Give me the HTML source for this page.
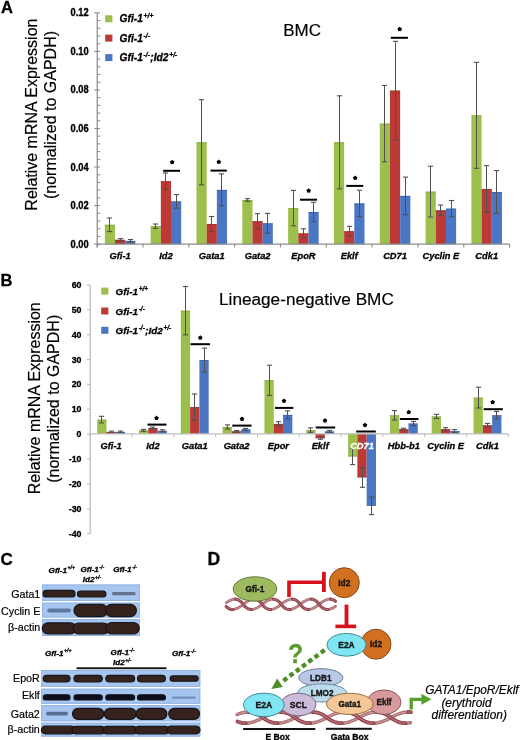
<!DOCTYPE html><html><head><meta charset="utf-8"><style>html,body{margin:0;padding:0;background:#fff}svg{display:block;will-change:transform}text{font-family:"Liberation Sans",sans-serif;stroke:#000;stroke-width:0.18px}text[font-weight="bold"]{stroke-width:0.3px}text.w{stroke:#fff}text.g{stroke:#5c9a2c}</style></head><body>
<svg width="520" height="740" viewBox="0 0 520 740">
<rect width="520" height="740" fill="#fff"/>
<text x="1.00" y="13.30" font-size="16.5" font-weight="bold" font-style="normal" text-anchor="start" fill="#000" >A</text>
<rect x="104.84" y="224.80" width="10.18" height="19.30" fill="#9dbf4c"/>
<rect x="104.84" y="224.80" width="10.18" height="0.9" fill="#7a9a3c" opacity="0.6"/>
<rect x="115.02" y="239.80" width="10.18" height="4.30" fill="#bc3936"/>
<rect x="115.02" y="239.80" width="10.18" height="0.9" fill="#8f2e2c" opacity="0.6"/>
<rect x="125.20" y="240.90" width="10.18" height="3.20" fill="#4a76c4"/>
<rect x="125.20" y="240.90" width="10.18" height="0.9" fill="#3a5c9c" opacity="0.6"/>
<line x1="109.50" y1="218.00" x2="109.50" y2="231.60" stroke="#505050" stroke-width="1.0"/>
<line x1="106.90" y1="218.00" x2="112.10" y2="218.00" stroke="#505050" stroke-width="1.1"/>
<line x1="106.90" y1="231.60" x2="112.10" y2="231.60" stroke="#505050" stroke-width="1.1"/>
<line x1="120.50" y1="238.60" x2="120.50" y2="241.00" stroke="#505050" stroke-width="1.0"/>
<line x1="117.90" y1="238.60" x2="123.10" y2="238.60" stroke="#505050" stroke-width="1.1"/>
<line x1="117.90" y1="241.00" x2="123.10" y2="241.00" stroke="#505050" stroke-width="1.1"/>
<line x1="130.50" y1="239.50" x2="130.50" y2="242.30" stroke="#505050" stroke-width="1.0"/>
<line x1="127.90" y1="239.50" x2="133.10" y2="239.50" stroke="#505050" stroke-width="1.1"/>
<line x1="127.90" y1="242.30" x2="133.10" y2="242.30" stroke="#505050" stroke-width="1.1"/>
<rect x="150.66" y="226.20" width="10.18" height="17.90" fill="#9dbf4c"/>
<rect x="150.66" y="226.20" width="10.18" height="0.9" fill="#7a9a3c" opacity="0.6"/>
<rect x="160.84" y="181.20" width="10.18" height="62.90" fill="#bc3936"/>
<rect x="160.84" y="181.20" width="10.18" height="0.9" fill="#8f2e2c" opacity="0.6"/>
<rect x="171.02" y="201.40" width="10.18" height="42.70" fill="#4a76c4"/>
<rect x="171.02" y="201.40" width="10.18" height="0.9" fill="#3a5c9c" opacity="0.6"/>
<line x1="155.50" y1="224.00" x2="155.50" y2="228.40" stroke="#505050" stroke-width="1.0"/>
<line x1="152.90" y1="224.00" x2="158.10" y2="224.00" stroke="#505050" stroke-width="1.1"/>
<line x1="152.90" y1="228.40" x2="158.10" y2="228.40" stroke="#505050" stroke-width="1.1"/>
<line x1="165.50" y1="173.00" x2="165.50" y2="189.40" stroke="#505050" stroke-width="1.0"/>
<line x1="162.90" y1="173.00" x2="168.10" y2="173.00" stroke="#505050" stroke-width="1.1"/>
<line x1="162.90" y1="189.40" x2="168.10" y2="189.40" stroke="#505050" stroke-width="1.1"/>
<line x1="176.50" y1="194.60" x2="176.50" y2="208.20" stroke="#505050" stroke-width="1.0"/>
<line x1="173.90" y1="194.60" x2="179.10" y2="194.60" stroke="#505050" stroke-width="1.1"/>
<line x1="173.90" y1="208.20" x2="179.10" y2="208.20" stroke="#505050" stroke-width="1.1"/>
<rect x="196.48" y="142.30" width="10.18" height="101.80" fill="#9dbf4c"/>
<rect x="196.48" y="142.30" width="10.18" height="0.9" fill="#7a9a3c" opacity="0.6"/>
<rect x="206.66" y="224.00" width="10.18" height="20.10" fill="#bc3936"/>
<rect x="206.66" y="224.00" width="10.18" height="0.9" fill="#8f2e2c" opacity="0.6"/>
<rect x="216.85" y="189.90" width="10.18" height="54.20" fill="#4a76c4"/>
<rect x="216.85" y="189.90" width="10.18" height="0.9" fill="#3a5c9c" opacity="0.6"/>
<line x1="201.50" y1="99.70" x2="201.50" y2="184.90" stroke="#505050" stroke-width="1.0"/>
<line x1="198.90" y1="99.70" x2="204.10" y2="99.70" stroke="#505050" stroke-width="1.1"/>
<line x1="198.90" y1="184.90" x2="204.10" y2="184.90" stroke="#505050" stroke-width="1.1"/>
<line x1="211.50" y1="216.50" x2="211.50" y2="231.50" stroke="#505050" stroke-width="1.0"/>
<line x1="208.90" y1="216.50" x2="214.10" y2="216.50" stroke="#505050" stroke-width="1.1"/>
<line x1="208.90" y1="231.50" x2="214.10" y2="231.50" stroke="#505050" stroke-width="1.1"/>
<line x1="221.50" y1="173.90" x2="221.50" y2="205.90" stroke="#505050" stroke-width="1.0"/>
<line x1="218.90" y1="173.90" x2="224.10" y2="173.90" stroke="#505050" stroke-width="1.1"/>
<line x1="218.90" y1="205.90" x2="224.10" y2="205.90" stroke="#505050" stroke-width="1.1"/>
<rect x="242.30" y="200.00" width="10.18" height="44.10" fill="#9dbf4c"/>
<rect x="242.30" y="200.00" width="10.18" height="0.9" fill="#7a9a3c" opacity="0.6"/>
<rect x="252.49" y="221.20" width="10.18" height="22.90" fill="#bc3936"/>
<rect x="252.49" y="221.20" width="10.18" height="0.9" fill="#8f2e2c" opacity="0.6"/>
<rect x="262.67" y="223.30" width="10.18" height="20.80" fill="#4a76c4"/>
<rect x="262.67" y="223.30" width="10.18" height="0.9" fill="#3a5c9c" opacity="0.6"/>
<line x1="247.50" y1="198.70" x2="247.50" y2="201.30" stroke="#505050" stroke-width="1.0"/>
<line x1="244.90" y1="198.70" x2="250.10" y2="198.70" stroke="#505050" stroke-width="1.1"/>
<line x1="244.90" y1="201.30" x2="250.10" y2="201.30" stroke="#505050" stroke-width="1.1"/>
<line x1="257.50" y1="213.70" x2="257.50" y2="228.70" stroke="#505050" stroke-width="1.0"/>
<line x1="254.90" y1="213.70" x2="260.10" y2="213.70" stroke="#505050" stroke-width="1.1"/>
<line x1="254.90" y1="228.70" x2="260.10" y2="228.70" stroke="#505050" stroke-width="1.1"/>
<line x1="267.50" y1="213.40" x2="267.50" y2="233.20" stroke="#505050" stroke-width="1.0"/>
<line x1="264.90" y1="213.40" x2="270.10" y2="213.40" stroke="#505050" stroke-width="1.1"/>
<line x1="264.90" y1="233.20" x2="270.10" y2="233.20" stroke="#505050" stroke-width="1.1"/>
<rect x="288.13" y="208.10" width="10.18" height="36.00" fill="#9dbf4c"/>
<rect x="288.13" y="208.10" width="10.18" height="0.9" fill="#7a9a3c" opacity="0.6"/>
<rect x="298.31" y="233.40" width="10.18" height="10.70" fill="#bc3936"/>
<rect x="298.31" y="233.40" width="10.18" height="0.9" fill="#8f2e2c" opacity="0.6"/>
<rect x="308.49" y="212.00" width="10.18" height="32.10" fill="#4a76c4"/>
<rect x="308.49" y="212.00" width="10.18" height="0.9" fill="#3a5c9c" opacity="0.6"/>
<line x1="293.50" y1="190.40" x2="293.50" y2="225.80" stroke="#505050" stroke-width="1.0"/>
<line x1="290.90" y1="190.40" x2="296.10" y2="190.40" stroke="#505050" stroke-width="1.1"/>
<line x1="290.90" y1="225.80" x2="296.10" y2="225.80" stroke="#505050" stroke-width="1.1"/>
<line x1="303.50" y1="228.80" x2="303.50" y2="238.00" stroke="#505050" stroke-width="1.0"/>
<line x1="300.90" y1="228.80" x2="306.10" y2="228.80" stroke="#505050" stroke-width="1.1"/>
<line x1="300.90" y1="238.00" x2="306.10" y2="238.00" stroke="#505050" stroke-width="1.1"/>
<line x1="313.50" y1="202.30" x2="313.50" y2="221.70" stroke="#505050" stroke-width="1.0"/>
<line x1="310.90" y1="202.30" x2="316.10" y2="202.30" stroke="#505050" stroke-width="1.1"/>
<line x1="310.90" y1="221.70" x2="316.10" y2="221.70" stroke="#505050" stroke-width="1.1"/>
<rect x="333.95" y="142.30" width="10.18" height="101.80" fill="#9dbf4c"/>
<rect x="333.95" y="142.30" width="10.18" height="0.9" fill="#7a9a3c" opacity="0.6"/>
<rect x="344.13" y="231.20" width="10.18" height="12.90" fill="#bc3936"/>
<rect x="344.13" y="231.20" width="10.18" height="0.9" fill="#8f2e2c" opacity="0.6"/>
<rect x="354.31" y="203.40" width="10.18" height="40.70" fill="#4a76c4"/>
<rect x="354.31" y="203.40" width="10.18" height="0.9" fill="#3a5c9c" opacity="0.6"/>
<line x1="339.50" y1="95.80" x2="339.50" y2="188.80" stroke="#505050" stroke-width="1.0"/>
<line x1="336.90" y1="95.80" x2="342.10" y2="95.80" stroke="#505050" stroke-width="1.1"/>
<line x1="336.90" y1="188.80" x2="342.10" y2="188.80" stroke="#505050" stroke-width="1.1"/>
<line x1="349.50" y1="226.30" x2="349.50" y2="236.10" stroke="#505050" stroke-width="1.0"/>
<line x1="346.90" y1="226.30" x2="352.10" y2="226.30" stroke="#505050" stroke-width="1.1"/>
<line x1="346.90" y1="236.10" x2="352.10" y2="236.10" stroke="#505050" stroke-width="1.1"/>
<line x1="359.50" y1="190.20" x2="359.50" y2="216.60" stroke="#505050" stroke-width="1.0"/>
<line x1="356.90" y1="190.20" x2="362.10" y2="190.20" stroke="#505050" stroke-width="1.1"/>
<line x1="356.90" y1="216.60" x2="362.10" y2="216.60" stroke="#505050" stroke-width="1.1"/>
<rect x="379.77" y="123.60" width="10.18" height="120.50" fill="#9dbf4c"/>
<rect x="379.77" y="123.60" width="10.18" height="0.9" fill="#7a9a3c" opacity="0.6"/>
<rect x="389.95" y="90.60" width="10.18" height="153.50" fill="#bc3936"/>
<rect x="389.95" y="90.60" width="10.18" height="0.9" fill="#8f2e2c" opacity="0.6"/>
<rect x="400.14" y="195.90" width="10.18" height="48.20" fill="#4a76c4"/>
<rect x="400.14" y="195.90" width="10.18" height="0.9" fill="#3a5c9c" opacity="0.6"/>
<line x1="384.50" y1="85.40" x2="384.50" y2="161.80" stroke="#505050" stroke-width="1.0"/>
<line x1="381.90" y1="85.40" x2="387.10" y2="85.40" stroke="#505050" stroke-width="1.1"/>
<line x1="381.90" y1="161.80" x2="387.10" y2="161.80" stroke="#505050" stroke-width="1.1"/>
<line x1="395.50" y1="41.30" x2="395.50" y2="139.90" stroke="#505050" stroke-width="1.0"/>
<line x1="392.90" y1="41.30" x2="398.10" y2="41.30" stroke="#505050" stroke-width="1.1"/>
<line x1="392.90" y1="139.90" x2="398.10" y2="139.90" stroke="#505050" stroke-width="1.1"/>
<line x1="405.50" y1="177.10" x2="405.50" y2="214.70" stroke="#505050" stroke-width="1.0"/>
<line x1="402.90" y1="177.10" x2="408.10" y2="177.10" stroke="#505050" stroke-width="1.1"/>
<line x1="402.90" y1="214.70" x2="408.10" y2="214.70" stroke="#505050" stroke-width="1.1"/>
<rect x="425.59" y="191.60" width="10.18" height="52.50" fill="#9dbf4c"/>
<rect x="425.59" y="191.60" width="10.18" height="0.9" fill="#7a9a3c" opacity="0.6"/>
<rect x="435.78" y="210.30" width="10.18" height="33.80" fill="#bc3936"/>
<rect x="435.78" y="210.30" width="10.18" height="0.9" fill="#8f2e2c" opacity="0.6"/>
<rect x="445.96" y="208.60" width="10.18" height="35.50" fill="#4a76c4"/>
<rect x="445.96" y="208.60" width="10.18" height="0.9" fill="#3a5c9c" opacity="0.6"/>
<line x1="430.50" y1="166.20" x2="430.50" y2="217.00" stroke="#505050" stroke-width="1.0"/>
<line x1="427.90" y1="166.20" x2="433.10" y2="166.20" stroke="#505050" stroke-width="1.1"/>
<line x1="427.90" y1="217.00" x2="433.10" y2="217.00" stroke="#505050" stroke-width="1.1"/>
<line x1="440.50" y1="205.00" x2="440.50" y2="215.60" stroke="#505050" stroke-width="1.0"/>
<line x1="437.90" y1="205.00" x2="443.10" y2="205.00" stroke="#505050" stroke-width="1.1"/>
<line x1="437.90" y1="215.60" x2="443.10" y2="215.60" stroke="#505050" stroke-width="1.1"/>
<line x1="451.50" y1="200.50" x2="451.50" y2="216.70" stroke="#505050" stroke-width="1.0"/>
<line x1="448.90" y1="200.50" x2="454.10" y2="200.50" stroke="#505050" stroke-width="1.1"/>
<line x1="448.90" y1="216.70" x2="454.10" y2="216.70" stroke="#505050" stroke-width="1.1"/>
<rect x="471.41" y="115.30" width="10.18" height="128.80" fill="#9dbf4c"/>
<rect x="471.41" y="115.30" width="10.18" height="0.9" fill="#7a9a3c" opacity="0.6"/>
<rect x="481.60" y="189.00" width="10.18" height="55.10" fill="#bc3936"/>
<rect x="481.60" y="189.00" width="10.18" height="0.9" fill="#8f2e2c" opacity="0.6"/>
<rect x="491.78" y="192.00" width="10.18" height="52.10" fill="#4a76c4"/>
<rect x="491.78" y="192.00" width="10.18" height="0.9" fill="#3a5c9c" opacity="0.6"/>
<line x1="476.50" y1="62.30" x2="476.50" y2="168.30" stroke="#505050" stroke-width="1.0"/>
<line x1="473.90" y1="62.30" x2="479.10" y2="62.30" stroke="#505050" stroke-width="1.1"/>
<line x1="473.90" y1="168.30" x2="479.10" y2="168.30" stroke="#505050" stroke-width="1.1"/>
<line x1="486.50" y1="165.70" x2="486.50" y2="212.30" stroke="#505050" stroke-width="1.0"/>
<line x1="483.90" y1="165.70" x2="489.10" y2="165.70" stroke="#505050" stroke-width="1.1"/>
<line x1="483.90" y1="212.30" x2="489.10" y2="212.30" stroke="#505050" stroke-width="1.1"/>
<line x1="496.50" y1="170.60" x2="496.50" y2="213.40" stroke="#505050" stroke-width="1.0"/>
<line x1="493.90" y1="170.60" x2="499.10" y2="170.60" stroke="#505050" stroke-width="1.1"/>
<line x1="493.90" y1="213.40" x2="499.10" y2="213.40" stroke="#505050" stroke-width="1.1"/>
<line x1="97.2" y1="12.9" x2="97.2" y2="247.5" stroke="#8c8c8c" stroke-width="1.2"/>
<line x1="97.2" y1="244.1" x2="509.6" y2="244.1" stroke="#8c8c8c" stroke-width="1.2"/>
<line x1="97.20" y1="244.1" x2="97.20" y2="247.5" stroke="#8c8c8c" stroke-width="1.1"/>
<line x1="143.02" y1="244.1" x2="143.02" y2="247.5" stroke="#8c8c8c" stroke-width="1.1"/>
<line x1="188.84" y1="244.1" x2="188.84" y2="247.5" stroke="#8c8c8c" stroke-width="1.1"/>
<line x1="234.67" y1="244.1" x2="234.67" y2="247.5" stroke="#8c8c8c" stroke-width="1.1"/>
<line x1="280.49" y1="244.1" x2="280.49" y2="247.5" stroke="#8c8c8c" stroke-width="1.1"/>
<line x1="326.31" y1="244.1" x2="326.31" y2="247.5" stroke="#8c8c8c" stroke-width="1.1"/>
<line x1="372.13" y1="244.1" x2="372.13" y2="247.5" stroke="#8c8c8c" stroke-width="1.1"/>
<line x1="417.96" y1="244.1" x2="417.96" y2="247.5" stroke="#8c8c8c" stroke-width="1.1"/>
<line x1="463.78" y1="244.1" x2="463.78" y2="247.5" stroke="#8c8c8c" stroke-width="1.1"/>
<line x1="509.60" y1="244.1" x2="509.60" y2="247.5" stroke="#8c8c8c" stroke-width="1.1"/>
<line x1="94.2" y1="244.10" x2="100" y2="244.10" stroke="#8c8c8c" stroke-width="1.1"/>
<text transform="translate(88.6,247.60) scale(1,1.08)" font-size="9.3" font-weight="bold" text-anchor="end">0.00</text>
<line x1="97.2" y1="236.39" x2="100.4" y2="236.39" stroke="#8c8c8c" stroke-width="1"/>
<line x1="97.2" y1="228.69" x2="100.4" y2="228.69" stroke="#8c8c8c" stroke-width="1"/>
<line x1="97.2" y1="220.98" x2="100.4" y2="220.98" stroke="#8c8c8c" stroke-width="1"/>
<line x1="97.2" y1="213.27" x2="100.4" y2="213.27" stroke="#8c8c8c" stroke-width="1"/>
<line x1="94.2" y1="205.57" x2="100" y2="205.57" stroke="#8c8c8c" stroke-width="1.1"/>
<text transform="translate(88.6,209.07) scale(1,1.08)" font-size="9.3" font-weight="bold" text-anchor="end">0.02</text>
<line x1="97.2" y1="197.86" x2="100.4" y2="197.86" stroke="#8c8c8c" stroke-width="1"/>
<line x1="97.2" y1="190.15" x2="100.4" y2="190.15" stroke="#8c8c8c" stroke-width="1"/>
<line x1="97.2" y1="182.45" x2="100.4" y2="182.45" stroke="#8c8c8c" stroke-width="1"/>
<line x1="97.2" y1="174.74" x2="100.4" y2="174.74" stroke="#8c8c8c" stroke-width="1"/>
<line x1="94.2" y1="167.03" x2="100" y2="167.03" stroke="#8c8c8c" stroke-width="1.1"/>
<text transform="translate(88.6,170.53) scale(1,1.08)" font-size="9.3" font-weight="bold" text-anchor="end">0.04</text>
<line x1="97.2" y1="159.33" x2="100.4" y2="159.33" stroke="#8c8c8c" stroke-width="1"/>
<line x1="97.2" y1="151.62" x2="100.4" y2="151.62" stroke="#8c8c8c" stroke-width="1"/>
<line x1="97.2" y1="143.91" x2="100.4" y2="143.91" stroke="#8c8c8c" stroke-width="1"/>
<line x1="97.2" y1="136.21" x2="100.4" y2="136.21" stroke="#8c8c8c" stroke-width="1"/>
<line x1="94.2" y1="128.50" x2="100" y2="128.50" stroke="#8c8c8c" stroke-width="1.1"/>
<text transform="translate(88.6,132.00) scale(1,1.08)" font-size="9.3" font-weight="bold" text-anchor="end">0.06</text>
<line x1="97.2" y1="120.79" x2="100.4" y2="120.79" stroke="#8c8c8c" stroke-width="1"/>
<line x1="97.2" y1="113.09" x2="100.4" y2="113.09" stroke="#8c8c8c" stroke-width="1"/>
<line x1="97.2" y1="105.38" x2="100.4" y2="105.38" stroke="#8c8c8c" stroke-width="1"/>
<line x1="97.2" y1="97.67" x2="100.4" y2="97.67" stroke="#8c8c8c" stroke-width="1"/>
<line x1="94.2" y1="89.97" x2="100" y2="89.97" stroke="#8c8c8c" stroke-width="1.1"/>
<text transform="translate(88.6,93.47) scale(1,1.08)" font-size="9.3" font-weight="bold" text-anchor="end">0.08</text>
<line x1="97.2" y1="82.26" x2="100.4" y2="82.26" stroke="#8c8c8c" stroke-width="1"/>
<line x1="97.2" y1="74.55" x2="100.4" y2="74.55" stroke="#8c8c8c" stroke-width="1"/>
<line x1="97.2" y1="66.85" x2="100.4" y2="66.85" stroke="#8c8c8c" stroke-width="1"/>
<line x1="97.2" y1="59.14" x2="100.4" y2="59.14" stroke="#8c8c8c" stroke-width="1"/>
<line x1="94.2" y1="51.43" x2="100" y2="51.43" stroke="#8c8c8c" stroke-width="1.1"/>
<text transform="translate(88.6,54.93) scale(1,1.08)" font-size="9.3" font-weight="bold" text-anchor="end">0.10</text>
<line x1="97.2" y1="43.73" x2="100.4" y2="43.73" stroke="#8c8c8c" stroke-width="1"/>
<line x1="97.2" y1="36.02" x2="100.4" y2="36.02" stroke="#8c8c8c" stroke-width="1"/>
<line x1="97.2" y1="28.31" x2="100.4" y2="28.31" stroke="#8c8c8c" stroke-width="1"/>
<line x1="97.2" y1="20.61" x2="100.4" y2="20.61" stroke="#8c8c8c" stroke-width="1"/>
<line x1="94.2" y1="12.90" x2="100" y2="12.90" stroke="#8c8c8c" stroke-width="1.1"/>
<text transform="translate(88.6,16.40) scale(1,1.08)" font-size="9.3" font-weight="bold" text-anchor="end">0.12</text>
<text x="120.11" y="259.30" font-size="9.3" font-weight="bold" font-style="italic" text-anchor="middle" fill="#000" >Gfi-1</text>
<text x="165.93" y="259.30" font-size="9.3" font-weight="bold" font-style="italic" text-anchor="middle" fill="#000" >Id2</text>
<text x="211.76" y="259.30" font-size="9.3" font-weight="bold" font-style="italic" text-anchor="middle" fill="#000" >Gata1</text>
<text x="257.58" y="259.30" font-size="9.3" font-weight="bold" font-style="italic" text-anchor="middle" fill="#000" >Gata2</text>
<text x="303.40" y="259.30" font-size="9.3" font-weight="bold" font-style="italic" text-anchor="middle" fill="#000" >EpoR</text>
<text x="349.22" y="259.30" font-size="9.3" font-weight="bold" font-style="italic" text-anchor="middle" fill="#000" >Eklf</text>
<text x="395.04" y="259.30" font-size="9.3" font-weight="bold" font-style="italic" text-anchor="middle" fill="#000" >CD71</text>
<text x="440.87" y="259.30" font-size="9.3" font-weight="bold" font-style="italic" text-anchor="middle" fill="#000" >Cyclin E</text>
<text x="486.69" y="259.30" font-size="9.3" font-weight="bold" font-style="italic" text-anchor="middle" fill="#000" >Cdk1</text>
<rect x="163.2" y="169.8" width="16.80" height="2" fill="#000"/>
<polygon points="172.20,159.80 173.26,160.84 174.58,161.53 173.91,162.86 173.67,164.32 172.20,164.10 170.73,164.32 170.49,162.86 169.82,161.53 171.14,160.84" fill="#000"/>
<rect x="210.5" y="169.6" width="16.30" height="2" fill="#000"/>
<polygon points="218.80,159.50 219.86,160.54 221.18,161.23 220.51,162.56 220.27,164.02 218.80,163.80 217.33,164.02 217.09,162.56 216.42,161.23 217.74,160.54" fill="#000"/>
<rect x="300" y="198.7" width="17.00" height="2" fill="#000"/>
<polygon points="308.70,188.30 309.76,189.34 311.08,190.03 310.41,191.36 310.17,192.82 308.70,192.60 307.23,192.82 306.99,191.36 306.32,190.03 307.64,189.34" fill="#000"/>
<rect x="346.3" y="184.9" width="17.00" height="2" fill="#000"/>
<polygon points="355.20,175.50 356.26,176.54 357.58,177.23 356.91,178.56 356.67,180.02 355.20,179.80 353.73,180.02 353.49,178.56 352.82,177.23 354.14,176.54" fill="#000"/>
<rect x="390.8" y="36.8" width="17.10" height="2" fill="#000"/>
<polygon points="399.70,26.70 400.76,27.74 402.08,28.43 401.41,29.76 401.17,31.22 399.70,31.00 398.23,31.22 397.99,29.76 397.32,28.43 398.64,27.74" fill="#000"/>
<rect x="105.2" y="15.30" width="7.2" height="7" fill="#9dbf4c"/>
<text x="119.6" y="22.40" font-size="10.2" font-weight="bold" font-style="italic">Gfi-1<tspan font-size="6.73" dx="0.8" dy="-4.08">+/+</tspan></text>
<rect x="105.2" y="34.60" width="7.2" height="7" fill="#bc3936"/>
<text x="119.6" y="41.70" font-size="10.2" font-weight="bold" font-style="italic">Gfi-1<tspan font-size="6.73" dx="0.8" dy="-4.08">-/-</tspan></text>
<rect x="105.2" y="54.10" width="7.2" height="7" fill="#4a76c4"/>
<text x="119.6" y="61.20" font-size="10.2" font-weight="bold" font-style="italic">Gfi-1<tspan font-size="6.73" dx="0.8" dy="-4.08">-/-</tspan><tspan font-size="10.2" dx="0.4" dy="4.08">;Id2</tspan><tspan font-size="6.73" dx="0.8" dy="-4.08">+/-</tspan></text>
<text x="283.20" y="35.70" font-size="17.0" font-weight="normal" font-style="normal" text-anchor="start" fill="#000" >BMC</text>
<text transform="translate(37.2,114.6) rotate(-90)" font-size="16" text-anchor="middle">Relative mRNA Expression</text>
<text transform="translate(55.8,115.0) rotate(-90)" font-size="16" text-anchor="middle">(normalized to GAPDH)</text>
<text x="0.60" y="285.90" font-size="16.5" font-weight="bold" font-style="normal" text-anchor="start" fill="#000" >B</text>
<rect x="97.17" y="419.60" width="9.29" height="14.30" fill="#9dbf4c"/>
<rect x="97.17" y="419.60" width="9.29" height="0.9" fill="#7a9a3c" opacity="0.6"/>
<rect x="106.46" y="431.90" width="9.29" height="2.00" fill="#bc3936"/>
<rect x="106.46" y="431.90" width="9.29" height="0.9" fill="#8f2e2c" opacity="0.6"/>
<rect x="115.76" y="431.90" width="9.29" height="2.00" fill="#4a76c4"/>
<rect x="115.76" y="431.90" width="9.29" height="0.9" fill="#3a5c9c" opacity="0.6"/>
<line x1="101.50" y1="416.30" x2="101.50" y2="422.90" stroke="#505050" stroke-width="1.0"/>
<line x1="98.90" y1="416.30" x2="104.10" y2="416.30" stroke="#505050" stroke-width="1.1"/>
<line x1="98.90" y1="422.90" x2="104.10" y2="422.90" stroke="#505050" stroke-width="1.1"/>
<line x1="111.50" y1="431.10" x2="111.50" y2="432.70" stroke="#505050" stroke-width="1.0"/>
<line x1="108.90" y1="431.10" x2="114.10" y2="431.10" stroke="#505050" stroke-width="1.1"/>
<line x1="108.90" y1="432.70" x2="114.10" y2="432.70" stroke="#505050" stroke-width="1.1"/>
<line x1="120.50" y1="431.10" x2="120.50" y2="432.70" stroke="#505050" stroke-width="1.0"/>
<line x1="117.90" y1="431.10" x2="123.10" y2="431.10" stroke="#505050" stroke-width="1.1"/>
<line x1="117.90" y1="432.70" x2="123.10" y2="432.70" stroke="#505050" stroke-width="1.1"/>
<rect x="138.99" y="430.40" width="9.29" height="3.50" fill="#9dbf4c"/>
<rect x="138.99" y="430.40" width="9.29" height="0.9" fill="#7a9a3c" opacity="0.6"/>
<rect x="148.28" y="428.10" width="9.29" height="5.80" fill="#bc3936"/>
<rect x="148.28" y="428.10" width="9.29" height="0.9" fill="#8f2e2c" opacity="0.6"/>
<rect x="157.58" y="430.80" width="9.29" height="3.10" fill="#4a76c4"/>
<rect x="157.58" y="430.80" width="9.29" height="0.9" fill="#3a5c9c" opacity="0.6"/>
<line x1="143.50" y1="429.40" x2="143.50" y2="431.40" stroke="#505050" stroke-width="1.0"/>
<line x1="140.90" y1="429.40" x2="146.10" y2="429.40" stroke="#505050" stroke-width="1.1"/>
<line x1="140.90" y1="431.40" x2="146.10" y2="431.40" stroke="#505050" stroke-width="1.1"/>
<line x1="152.50" y1="427.10" x2="152.50" y2="429.10" stroke="#505050" stroke-width="1.0"/>
<line x1="149.90" y1="427.10" x2="155.10" y2="427.10" stroke="#505050" stroke-width="1.1"/>
<line x1="149.90" y1="429.10" x2="155.10" y2="429.10" stroke="#505050" stroke-width="1.1"/>
<line x1="162.50" y1="429.80" x2="162.50" y2="431.80" stroke="#505050" stroke-width="1.0"/>
<line x1="159.90" y1="429.80" x2="165.10" y2="429.80" stroke="#505050" stroke-width="1.1"/>
<line x1="159.90" y1="431.80" x2="165.10" y2="431.80" stroke="#505050" stroke-width="1.1"/>
<rect x="180.81" y="310.70" width="9.29" height="123.20" fill="#9dbf4c"/>
<rect x="180.81" y="310.70" width="9.29" height="0.9" fill="#7a9a3c" opacity="0.6"/>
<rect x="190.10" y="407.10" width="9.29" height="26.80" fill="#bc3936"/>
<rect x="190.10" y="407.10" width="9.29" height="0.9" fill="#8f2e2c" opacity="0.6"/>
<rect x="199.40" y="360.00" width="9.29" height="73.90" fill="#4a76c4"/>
<rect x="199.40" y="360.00" width="9.29" height="0.9" fill="#3a5c9c" opacity="0.6"/>
<line x1="185.50" y1="286.50" x2="185.50" y2="334.90" stroke="#505050" stroke-width="1.0"/>
<line x1="182.90" y1="286.50" x2="188.10" y2="286.50" stroke="#505050" stroke-width="1.1"/>
<line x1="182.90" y1="334.90" x2="188.10" y2="334.90" stroke="#505050" stroke-width="1.1"/>
<line x1="194.50" y1="394.00" x2="194.50" y2="420.20" stroke="#505050" stroke-width="1.0"/>
<line x1="191.90" y1="394.00" x2="197.10" y2="394.00" stroke="#505050" stroke-width="1.1"/>
<line x1="191.90" y1="420.20" x2="197.10" y2="420.20" stroke="#505050" stroke-width="1.1"/>
<line x1="204.50" y1="348.10" x2="204.50" y2="371.90" stroke="#505050" stroke-width="1.0"/>
<line x1="201.90" y1="348.10" x2="207.10" y2="348.10" stroke="#505050" stroke-width="1.1"/>
<line x1="201.90" y1="371.90" x2="207.10" y2="371.90" stroke="#505050" stroke-width="1.1"/>
<rect x="222.63" y="427.00" width="9.29" height="6.90" fill="#9dbf4c"/>
<rect x="222.63" y="427.00" width="9.29" height="0.9" fill="#7a9a3c" opacity="0.6"/>
<rect x="231.92" y="431.30" width="9.29" height="2.60" fill="#bc3936"/>
<rect x="231.92" y="431.30" width="9.29" height="0.9" fill="#8f2e2c" opacity="0.6"/>
<rect x="241.22" y="429.40" width="9.29" height="4.50" fill="#4a76c4"/>
<rect x="241.22" y="429.40" width="9.29" height="0.9" fill="#3a5c9c" opacity="0.6"/>
<line x1="227.50" y1="424.90" x2="227.50" y2="429.10" stroke="#505050" stroke-width="1.0"/>
<line x1="224.90" y1="424.90" x2="230.10" y2="424.90" stroke="#505050" stroke-width="1.1"/>
<line x1="224.90" y1="429.10" x2="230.10" y2="429.10" stroke="#505050" stroke-width="1.1"/>
<line x1="236.50" y1="430.50" x2="236.50" y2="432.10" stroke="#505050" stroke-width="1.0"/>
<line x1="233.90" y1="430.50" x2="239.10" y2="430.50" stroke="#505050" stroke-width="1.1"/>
<line x1="233.90" y1="432.10" x2="239.10" y2="432.10" stroke="#505050" stroke-width="1.1"/>
<line x1="245.50" y1="428.40" x2="245.50" y2="430.40" stroke="#505050" stroke-width="1.0"/>
<line x1="242.90" y1="428.40" x2="248.10" y2="428.40" stroke="#505050" stroke-width="1.1"/>
<line x1="242.90" y1="430.40" x2="248.10" y2="430.40" stroke="#505050" stroke-width="1.1"/>
<rect x="264.45" y="380.30" width="9.29" height="53.60" fill="#9dbf4c"/>
<rect x="264.45" y="380.30" width="9.29" height="0.9" fill="#7a9a3c" opacity="0.6"/>
<rect x="273.74" y="423.90" width="9.29" height="10.00" fill="#bc3936"/>
<rect x="273.74" y="423.90" width="9.29" height="0.9" fill="#8f2e2c" opacity="0.6"/>
<rect x="283.04" y="414.90" width="9.29" height="19.00" fill="#4a76c4"/>
<rect x="283.04" y="414.90" width="9.29" height="0.9" fill="#3a5c9c" opacity="0.6"/>
<line x1="269.50" y1="365.20" x2="269.50" y2="395.40" stroke="#505050" stroke-width="1.0"/>
<line x1="266.90" y1="365.20" x2="272.10" y2="365.20" stroke="#505050" stroke-width="1.1"/>
<line x1="266.90" y1="395.40" x2="272.10" y2="395.40" stroke="#505050" stroke-width="1.1"/>
<line x1="278.50" y1="421.70" x2="278.50" y2="426.10" stroke="#505050" stroke-width="1.0"/>
<line x1="275.90" y1="421.70" x2="281.10" y2="421.70" stroke="#505050" stroke-width="1.1"/>
<line x1="275.90" y1="426.10" x2="281.10" y2="426.10" stroke="#505050" stroke-width="1.1"/>
<line x1="287.50" y1="410.90" x2="287.50" y2="418.90" stroke="#505050" stroke-width="1.0"/>
<line x1="284.90" y1="410.90" x2="290.10" y2="410.90" stroke="#505050" stroke-width="1.1"/>
<line x1="284.90" y1="418.90" x2="290.10" y2="418.90" stroke="#505050" stroke-width="1.1"/>
<rect x="306.27" y="430.10" width="9.29" height="3.80" fill="#9dbf4c"/>
<rect x="306.27" y="430.10" width="9.29" height="0.9" fill="#7a9a3c" opacity="0.6"/>
<rect x="315.56" y="433.90" width="9.29" height="4.40" fill="#bc3936"/>
<rect x="315.56" y="437.40" width="9.29" height="0.9" fill="#8f2e2c" opacity="0.6"/>
<rect x="324.86" y="431.40" width="9.29" height="2.50" fill="#4a76c4"/>
<rect x="324.86" y="431.40" width="9.29" height="0.9" fill="#3a5c9c" opacity="0.6"/>
<line x1="310.50" y1="427.90" x2="310.50" y2="432.30" stroke="#505050" stroke-width="1.0"/>
<line x1="307.90" y1="427.90" x2="313.10" y2="427.90" stroke="#505050" stroke-width="1.1"/>
<line x1="307.90" y1="432.30" x2="313.10" y2="432.30" stroke="#505050" stroke-width="1.1"/>
<line x1="320.50" y1="437.30" x2="320.50" y2="439.30" stroke="#505050" stroke-width="1.0"/>
<line x1="317.90" y1="437.30" x2="323.10" y2="437.30" stroke="#505050" stroke-width="1.1"/>
<line x1="317.90" y1="439.30" x2="323.10" y2="439.30" stroke="#505050" stroke-width="1.1"/>
<line x1="329.50" y1="430.40" x2="329.50" y2="432.40" stroke="#505050" stroke-width="1.0"/>
<line x1="326.90" y1="430.40" x2="332.10" y2="430.40" stroke="#505050" stroke-width="1.1"/>
<line x1="326.90" y1="432.40" x2="332.10" y2="432.40" stroke="#505050" stroke-width="1.1"/>
<rect x="348.09" y="433.90" width="9.29" height="22.60" fill="#9dbf4c"/>
<rect x="348.09" y="455.60" width="9.29" height="0.9" fill="#7a9a3c" opacity="0.6"/>
<rect x="357.38" y="433.90" width="9.29" height="43.50" fill="#bc3936"/>
<rect x="357.38" y="476.50" width="9.29" height="0.9" fill="#8f2e2c" opacity="0.6"/>
<rect x="366.68" y="433.90" width="9.29" height="71.90" fill="#4a76c4"/>
<rect x="366.68" y="504.90" width="9.29" height="0.9" fill="#3a5c9c" opacity="0.6"/>
<line x1="352.50" y1="448.40" x2="352.50" y2="464.60" stroke="#505050" stroke-width="1.0"/>
<line x1="349.90" y1="448.40" x2="355.10" y2="448.40" stroke="#505050" stroke-width="1.1"/>
<line x1="349.90" y1="464.60" x2="355.10" y2="464.60" stroke="#505050" stroke-width="1.1"/>
<line x1="362.50" y1="467.50" x2="362.50" y2="487.30" stroke="#505050" stroke-width="1.0"/>
<line x1="359.90" y1="467.50" x2="365.10" y2="467.50" stroke="#505050" stroke-width="1.1"/>
<line x1="359.90" y1="487.30" x2="365.10" y2="487.30" stroke="#505050" stroke-width="1.1"/>
<line x1="371.50" y1="497.00" x2="371.50" y2="514.60" stroke="#505050" stroke-width="1.0"/>
<line x1="368.90" y1="497.00" x2="374.10" y2="497.00" stroke="#505050" stroke-width="1.1"/>
<line x1="368.90" y1="514.60" x2="374.10" y2="514.60" stroke="#505050" stroke-width="1.1"/>
<rect x="389.91" y="415.30" width="9.29" height="18.60" fill="#9dbf4c"/>
<rect x="389.91" y="415.30" width="9.29" height="0.9" fill="#7a9a3c" opacity="0.6"/>
<rect x="399.20" y="429.20" width="9.29" height="4.70" fill="#bc3936"/>
<rect x="399.20" y="429.20" width="9.29" height="0.9" fill="#8f2e2c" opacity="0.6"/>
<rect x="408.50" y="423.50" width="9.29" height="10.40" fill="#4a76c4"/>
<rect x="408.50" y="423.50" width="9.29" height="0.9" fill="#3a5c9c" opacity="0.6"/>
<line x1="394.50" y1="410.60" x2="394.50" y2="420.00" stroke="#505050" stroke-width="1.0"/>
<line x1="391.90" y1="410.60" x2="397.10" y2="410.60" stroke="#505050" stroke-width="1.1"/>
<line x1="391.90" y1="420.00" x2="397.10" y2="420.00" stroke="#505050" stroke-width="1.1"/>
<line x1="403.50" y1="428.20" x2="403.50" y2="430.20" stroke="#505050" stroke-width="1.0"/>
<line x1="400.90" y1="428.20" x2="406.10" y2="428.20" stroke="#505050" stroke-width="1.1"/>
<line x1="400.90" y1="430.20" x2="406.10" y2="430.20" stroke="#505050" stroke-width="1.1"/>
<line x1="413.50" y1="421.40" x2="413.50" y2="425.60" stroke="#505050" stroke-width="1.0"/>
<line x1="410.90" y1="421.40" x2="416.10" y2="421.40" stroke="#505050" stroke-width="1.1"/>
<line x1="410.90" y1="425.60" x2="416.10" y2="425.60" stroke="#505050" stroke-width="1.1"/>
<rect x="431.73" y="416.40" width="9.29" height="17.50" fill="#9dbf4c"/>
<rect x="431.73" y="416.40" width="9.29" height="0.9" fill="#7a9a3c" opacity="0.6"/>
<rect x="441.02" y="429.20" width="9.29" height="4.70" fill="#bc3936"/>
<rect x="441.02" y="429.20" width="9.29" height="0.9" fill="#8f2e2c" opacity="0.6"/>
<rect x="450.32" y="431.10" width="9.29" height="2.80" fill="#4a76c4"/>
<rect x="450.32" y="431.10" width="9.29" height="0.9" fill="#3a5c9c" opacity="0.6"/>
<line x1="436.50" y1="414.30" x2="436.50" y2="418.50" stroke="#505050" stroke-width="1.0"/>
<line x1="433.90" y1="414.30" x2="439.10" y2="414.30" stroke="#505050" stroke-width="1.1"/>
<line x1="433.90" y1="418.50" x2="439.10" y2="418.50" stroke="#505050" stroke-width="1.1"/>
<line x1="445.50" y1="427.70" x2="445.50" y2="430.70" stroke="#505050" stroke-width="1.0"/>
<line x1="442.90" y1="427.70" x2="448.10" y2="427.70" stroke="#505050" stroke-width="1.1"/>
<line x1="442.90" y1="430.70" x2="448.10" y2="430.70" stroke="#505050" stroke-width="1.1"/>
<line x1="454.50" y1="429.60" x2="454.50" y2="432.60" stroke="#505050" stroke-width="1.0"/>
<line x1="451.90" y1="429.60" x2="457.10" y2="429.60" stroke="#505050" stroke-width="1.1"/>
<line x1="451.90" y1="432.60" x2="457.10" y2="432.60" stroke="#505050" stroke-width="1.1"/>
<rect x="473.55" y="397.60" width="9.29" height="36.30" fill="#9dbf4c"/>
<rect x="473.55" y="397.60" width="9.29" height="0.9" fill="#7a9a3c" opacity="0.6"/>
<rect x="482.84" y="425.30" width="9.29" height="8.60" fill="#bc3936"/>
<rect x="482.84" y="425.30" width="9.29" height="0.9" fill="#8f2e2c" opacity="0.6"/>
<rect x="492.14" y="415.20" width="9.29" height="18.70" fill="#4a76c4"/>
<rect x="492.14" y="415.20" width="9.29" height="0.9" fill="#3a5c9c" opacity="0.6"/>
<line x1="478.50" y1="387.20" x2="478.50" y2="408.00" stroke="#505050" stroke-width="1.0"/>
<line x1="475.90" y1="387.20" x2="481.10" y2="387.20" stroke="#505050" stroke-width="1.1"/>
<line x1="475.90" y1="408.00" x2="481.10" y2="408.00" stroke="#505050" stroke-width="1.1"/>
<line x1="487.50" y1="423.40" x2="487.50" y2="427.20" stroke="#505050" stroke-width="1.0"/>
<line x1="484.90" y1="423.40" x2="490.10" y2="423.40" stroke="#505050" stroke-width="1.1"/>
<line x1="484.90" y1="427.20" x2="490.10" y2="427.20" stroke="#505050" stroke-width="1.1"/>
<line x1="496.50" y1="411.40" x2="496.50" y2="419.00" stroke="#505050" stroke-width="1.0"/>
<line x1="493.90" y1="411.40" x2="499.10" y2="411.40" stroke="#505050" stroke-width="1.1"/>
<line x1="493.90" y1="419.00" x2="499.10" y2="419.00" stroke="#505050" stroke-width="1.1"/>
<line x1="90.2" y1="284.9" x2="90.2" y2="533.7" stroke="#bdbdbd" stroke-width="1.3"/>
<line x1="90.2" y1="433.9" x2="508.4" y2="433.9" stroke="#bdbdbd" stroke-width="1.3"/>
<line x1="90.20" y1="433.9" x2="90.20" y2="437.09999999999997" stroke="#bdbdbd" stroke-width="1.1"/>
<line x1="132.02" y1="433.9" x2="132.02" y2="437.09999999999997" stroke="#bdbdbd" stroke-width="1.1"/>
<line x1="173.84" y1="433.9" x2="173.84" y2="437.09999999999997" stroke="#bdbdbd" stroke-width="1.1"/>
<line x1="215.66" y1="433.9" x2="215.66" y2="437.09999999999997" stroke="#bdbdbd" stroke-width="1.1"/>
<line x1="257.48" y1="433.9" x2="257.48" y2="437.09999999999997" stroke="#bdbdbd" stroke-width="1.1"/>
<line x1="299.30" y1="433.9" x2="299.30" y2="437.09999999999997" stroke="#bdbdbd" stroke-width="1.1"/>
<line x1="341.12" y1="433.9" x2="341.12" y2="437.09999999999997" stroke="#bdbdbd" stroke-width="1.1"/>
<line x1="382.94" y1="433.9" x2="382.94" y2="437.09999999999997" stroke="#bdbdbd" stroke-width="1.1"/>
<line x1="424.76" y1="433.9" x2="424.76" y2="437.09999999999997" stroke="#bdbdbd" stroke-width="1.1"/>
<line x1="466.58" y1="433.9" x2="466.58" y2="437.09999999999997" stroke="#bdbdbd" stroke-width="1.1"/>
<line x1="508.40" y1="433.9" x2="508.40" y2="437.09999999999997" stroke="#bdbdbd" stroke-width="1.1"/>
<line x1="87" y1="284.90" x2="90.2" y2="284.90" stroke="#bdbdbd" stroke-width="1.1"/>
<text x="81.50" y="287.90" font-size="8.8" font-weight="bold" font-style="normal" text-anchor="end" fill="#000" >60</text>
<line x1="87" y1="309.78" x2="90.2" y2="309.78" stroke="#bdbdbd" stroke-width="1.1"/>
<text x="81.50" y="312.78" font-size="8.8" font-weight="bold" font-style="normal" text-anchor="end" fill="#000" >50</text>
<line x1="87" y1="334.66" x2="90.2" y2="334.66" stroke="#bdbdbd" stroke-width="1.1"/>
<text x="81.50" y="337.66" font-size="8.8" font-weight="bold" font-style="normal" text-anchor="end" fill="#000" >40</text>
<line x1="87" y1="359.54" x2="90.2" y2="359.54" stroke="#bdbdbd" stroke-width="1.1"/>
<text x="81.50" y="362.54" font-size="8.8" font-weight="bold" font-style="normal" text-anchor="end" fill="#000" >30</text>
<line x1="87" y1="384.42" x2="90.2" y2="384.42" stroke="#bdbdbd" stroke-width="1.1"/>
<text x="81.50" y="387.42" font-size="8.8" font-weight="bold" font-style="normal" text-anchor="end" fill="#000" >20</text>
<line x1="87" y1="409.30" x2="90.2" y2="409.30" stroke="#bdbdbd" stroke-width="1.1"/>
<text x="81.50" y="412.30" font-size="8.8" font-weight="bold" font-style="normal" text-anchor="end" fill="#000" >10</text>
<line x1="87" y1="434.18" x2="90.2" y2="434.18" stroke="#bdbdbd" stroke-width="1.1"/>
<text x="81.50" y="437.18" font-size="8.8" font-weight="bold" font-style="normal" text-anchor="end" fill="#000" >0</text>
<line x1="87" y1="459.06" x2="90.2" y2="459.06" stroke="#bdbdbd" stroke-width="1.1"/>
<text x="81.50" y="462.06" font-size="8.8" font-weight="bold" font-style="normal" text-anchor="end" fill="#000" >-10</text>
<line x1="87" y1="483.94" x2="90.2" y2="483.94" stroke="#bdbdbd" stroke-width="1.1"/>
<text x="81.50" y="486.94" font-size="8.8" font-weight="bold" font-style="normal" text-anchor="end" fill="#000" >-20</text>
<line x1="87" y1="508.82" x2="90.2" y2="508.82" stroke="#bdbdbd" stroke-width="1.1"/>
<text x="81.50" y="511.82" font-size="8.8" font-weight="bold" font-style="normal" text-anchor="end" fill="#000" >-30</text>
<line x1="87" y1="533.70" x2="90.2" y2="533.70" stroke="#bdbdbd" stroke-width="1.1"/>
<text x="81.50" y="536.70" font-size="8.8" font-weight="bold" font-style="normal" text-anchor="end" fill="#000" >-40</text>
<text x="111.11" y="449.10" font-size="9.3" font-weight="bold" font-style="italic" text-anchor="middle" fill="#000" >Gfi-1</text>
<text x="152.93" y="449.10" font-size="9.3" font-weight="bold" font-style="italic" text-anchor="middle" fill="#000" >Id2</text>
<text x="194.75" y="449.10" font-size="9.3" font-weight="bold" font-style="italic" text-anchor="middle" fill="#000" >Gata1</text>
<text x="236.57" y="449.10" font-size="9.3" font-weight="bold" font-style="italic" text-anchor="middle" fill="#000" >Gata2</text>
<text x="278.39" y="449.10" font-size="9.3" font-weight="bold" font-style="italic" text-anchor="middle" fill="#000" >Epor</text>
<text x="320.21" y="449.10" font-size="9.3" font-weight="bold" font-style="italic" text-anchor="middle" fill="#000" >Eklf</text>
<text x="362.03" y="449.10" font-size="9.3" font-weight="bold" font-style="italic" text-anchor="middle" fill="#fff" class="w">CD71</text>
<text x="403.85" y="449.10" font-size="9.3" font-weight="bold" font-style="italic" text-anchor="middle" fill="#000" >Hbb-b1</text>
<text x="445.67" y="449.10" font-size="9.3" font-weight="bold" font-style="italic" text-anchor="middle" fill="#000" >Cyclin E</text>
<text x="487.49" y="449.10" font-size="9.3" font-weight="bold" font-style="italic" text-anchor="middle" fill="#000" >Cdk1</text>
<rect x="147.5" y="423.6" width="19.00" height="2" fill="#000"/>
<polygon points="156.50,415.60 157.56,416.64 158.88,417.33 158.21,418.66 157.97,420.12 156.50,419.90 155.03,420.12 154.79,418.66 154.12,417.33 155.44,416.64" fill="#000"/>
<rect x="190.5" y="343.2" width="19.50" height="2" fill="#000"/>
<polygon points="200.30,335.20 201.36,336.24 202.68,336.93 202.01,338.26 201.77,339.72 200.30,339.50 198.83,339.72 198.59,338.26 197.92,336.93 199.24,336.24" fill="#000"/>
<rect x="232.3" y="424.6" width="19.20" height="2" fill="#000"/>
<polygon points="242.00,416.50 243.06,417.54 244.38,418.23 243.71,419.56 243.47,421.02 242.00,420.80 240.53,421.02 240.29,419.56 239.62,418.23 240.94,417.54" fill="#000"/>
<rect x="275" y="406.9" width="18.40" height="2" fill="#000"/>
<polygon points="284.00,398.40 285.06,399.44 286.38,400.13 285.71,401.46 285.47,402.92 284.00,402.70 282.53,402.92 282.29,401.46 281.62,400.13 282.94,399.44" fill="#000"/>
<rect x="315.7" y="426.5" width="19.50" height="2" fill="#000"/>
<polygon points="325.00,418.10 326.06,419.14 327.38,419.83 326.71,421.16 326.47,422.62 325.00,422.40 323.53,422.62 323.29,421.16 322.62,419.83 323.94,419.14" fill="#000"/>
<rect x="356.2" y="430.5" width="19.60" height="2" fill="#000"/>
<polygon points="365.00,422.60 366.06,423.64 367.38,424.33 366.71,425.66 366.47,427.12 365.00,426.90 363.53,427.12 363.29,425.66 362.62,424.33 363.94,423.64" fill="#000"/>
<rect x="399.9" y="418" width="18.60" height="2" fill="#000"/>
<polygon points="408.80,409.80 409.86,410.84 411.18,411.53 410.51,412.86 410.27,414.32 408.80,414.10 407.33,414.32 407.09,412.86 406.42,411.53 407.74,410.84" fill="#000"/>
<rect x="483.7" y="408.2" width="19.10" height="2" fill="#000"/>
<polygon points="492.70,399.70 493.76,400.74 495.08,401.43 494.41,402.76 494.17,404.22 492.70,404.00 491.23,404.22 490.99,402.76 490.32,401.43 491.64,400.74" fill="#000"/>
<rect x="101.2" y="287.60" width="7.2" height="7" fill="#9dbf4c"/>
<text x="115.6" y="294.70" font-size="9.8" font-weight="bold" font-style="italic">Gfi-1<tspan font-size="6.47" dx="0.8" dy="-3.92">+/+</tspan></text>
<rect x="101.2" y="307.50" width="7.2" height="7" fill="#bc3936"/>
<text x="115.6" y="314.60" font-size="9.8" font-weight="bold" font-style="italic">Gfi-1<tspan font-size="6.47" dx="0.8" dy="-3.92">-/-</tspan></text>
<rect x="101.2" y="326.80" width="7.2" height="7" fill="#4a76c4"/>
<text x="115.6" y="333.90" font-size="9.8" font-weight="bold" font-style="italic">Gfi-1<tspan font-size="6.47" dx="0.8" dy="-3.92">-/-</tspan><tspan font-size="9.8" dx="0.4" dy="3.92">;Id2</tspan><tspan font-size="6.47" dx="0.8" dy="-3.92">+/-</tspan></text>
<text x="219.00" y="304.50" font-size="17.2" font-weight="normal" font-style="normal" text-anchor="start" fill="#000" >Lineage-negative BMC</text>
<text transform="translate(39.8,398.3) rotate(-90)" font-size="16" text-anchor="middle">Relative mRNA Expression</text>
<text transform="translate(59.2,398.8) rotate(-90)" font-size="16" text-anchor="middle">(normalized to GAPDH)</text>
<text x="0.50" y="565.00" font-size="17" font-weight="bold" font-style="normal" text-anchor="start" fill="#000" >C</text>
<defs><filter id="bl" x="-20%" y="-60%" width="140%" height="220%"><feGaussianBlur stdDeviation="0.7"/></filter><filter id="bl2" x="-20%" y="-60%" width="140%" height="220%"><feGaussianBlur stdDeviation="0.45"/></filter></defs>
<text x="48.6" y="572.5" font-size="8.1" font-weight="bold" font-style="italic">Gfi-1<tspan font-size="5.18" dx="0.5" dy="-3.40">+/+</tspan></text>
<text x="80.4" y="572.4" font-size="8.1" font-weight="bold" font-style="italic">Gfi-1<tspan font-size="5.18" dx="0.5" dy="-3.40">-/-</tspan></text>
<text x="82.8" y="582.2" font-size="8.1" font-weight="bold" font-style="italic">Id2<tspan font-size="5.18" dx="0.5" dy="-3.40">+/-</tspan></text>
<text x="113.2" y="572.4" font-size="8.1" font-weight="bold" font-style="italic">Gfi-1<tspan font-size="5.18" dx="0.5" dy="-3.40">-/-</tspan></text>
<rect x="42.1" y="584.5" width="97.80" height="16.50" fill="#a6c6f0"/>
<rect x="42.6" y="585.0" width="96.80" height="15.50" fill="none" stroke="#94b6e4" stroke-width="1"/>
<rect x="42.1" y="602.6" width="97.80" height="15.00" fill="#a6c6f0"/>
<rect x="42.6" y="603.1" width="96.80" height="14.00" fill="none" stroke="#94b6e4" stroke-width="1"/>
<rect x="42.1" y="619.1" width="97.80" height="16.90" fill="#a6c6f0"/>
<rect x="42.6" y="619.6" width="96.80" height="15.90" fill="none" stroke="#94b6e4" stroke-width="1"/>
<rect x="43.1" y="590.3" width="31.90" height="6.70" rx="3.35" fill="#36221a" opacity="1.0" stroke="#16141a" stroke-width="1.2" filter="url(#bl2)"/>
<rect x="77.5" y="591.2" width="28.40" height="5.80" rx="2.90" fill="#36221a" opacity="1.0" stroke="#16141a" stroke-width="1.2" filter="url(#bl2)"/>
<rect x="112.0" y="592.0" width="23.70" height="3.30" rx="1.65" fill="#3a3a48" opacity="0.6" stroke="#16141a" stroke-width="0" filter="url(#bl2)"/>
<rect x="47.3" y="608.6" width="23.60" height="3.90" rx="1.95" fill="#405a80" opacity="0.7" stroke="#16141a" stroke-width="0" filter="url(#bl2)"/>
<rect x="74.0" y="604.3" width="33.50" height="12.30" rx="6.00" fill="#36221a" opacity="1.0" stroke="#16141a" stroke-width="1.2" filter="url(#bl2)"/>
<rect x="105.5" y="604.3" width="30.90" height="12.30" rx="6.00" fill="#36221a" opacity="1.0" stroke="#16141a" stroke-width="1.2" filter="url(#bl2)"/>
<rect x="42.3" y="622.8" width="33.70" height="11.20" rx="5.60" fill="#36221a" opacity="1.0" stroke="#16141a" stroke-width="1.2" filter="url(#bl2)"/>
<rect x="73" y="623.2" width="36.00" height="10.80" rx="5.40" fill="#36221a" opacity="1.0" stroke="#16141a" stroke-width="1.2" filter="url(#bl2)"/>
<rect x="106" y="622.5" width="33.20" height="11.50" rx="5.75" fill="#36221a" opacity="1.0" stroke="#16141a" stroke-width="1.2" filter="url(#bl2)"/>
<text x="40.30" y="597.60" font-size="10.7" font-weight="normal" font-style="normal" text-anchor="end" fill="#000" >Gata1</text>
<text x="40.30" y="614.60" font-size="10.7" font-weight="normal" font-style="normal" text-anchor="end" fill="#000" >Cyclin E</text>
<text x="40.30" y="630.60" font-size="10.7" font-weight="normal" font-style="normal" text-anchor="end" fill="#000" >&#946;-actin</text>
<text x="45.0" y="655.6" font-size="8.1" font-weight="bold" font-style="italic">Gfi-1<tspan font-size="5.18" dx="0.5" dy="-3.40">+/+</tspan></text>
<text x="110.6" y="655.1" font-size="8.1" font-weight="bold" font-style="italic">Gfi-1<tspan font-size="5.18" dx="0.5" dy="-3.40">-/-</tspan></text>
<text x="113.0" y="665.2" font-size="8.1" font-weight="bold" font-style="italic">Id2<tspan font-size="5.18" dx="0.5" dy="-3.40">+/-</tspan></text>
<text x="171.9" y="656.0" font-size="8.1" font-weight="bold" font-style="italic">Gfi-1<tspan font-size="5.18" dx="0.5" dy="-3.40">-/-</tspan></text>
<rect x="76.5" y="667.3" width="90" height="1.9" fill="#111"/>
<rect x="41.1" y="670.0" width="159.20" height="17.00" fill="#a6c6f0"/>
<rect x="41.6" y="670.5" width="158.20" height="16.00" fill="none" stroke="#94b6e4" stroke-width="1"/>
<rect x="41.1" y="688.7" width="159.20" height="15.10" fill="#a6c6f0"/>
<rect x="41.6" y="689.2" width="158.20" height="14.10" fill="none" stroke="#94b6e4" stroke-width="1"/>
<rect x="41.1" y="705.1" width="159.20" height="16.20" fill="#a6c6f0"/>
<rect x="41.6" y="705.6" width="158.20" height="15.20" fill="none" stroke="#94b6e4" stroke-width="1"/>
<rect x="41.1" y="722.7" width="159.20" height="13.90" fill="#a6c6f0"/>
<rect x="41.6" y="723.2" width="158.20" height="12.90" fill="none" stroke="#94b6e4" stroke-width="1"/>
<rect x="43.3" y="675.3" width="26.70" height="6.50" rx="3.25" fill="#36221a" opacity="1.0" stroke="#16141a" stroke-width="1.2" filter="url(#bl2)"/>
<rect x="74.0" y="675.3" width="28.30" height="6.50" rx="3.25" fill="#36221a" opacity="1.0" stroke="#16141a" stroke-width="1.2" filter="url(#bl2)"/>
<rect x="105.8" y="675.3" width="28.80" height="6.50" rx="3.25" fill="#36221a" opacity="1.0" stroke="#16141a" stroke-width="1.2" filter="url(#bl2)"/>
<rect x="137.5" y="675.3" width="27.90" height="6.50" rx="3.25" fill="#36221a" opacity="1.0" stroke="#16141a" stroke-width="1.2" filter="url(#bl2)"/>
<rect x="170.2" y="675.9" width="27.90" height="5.30" rx="2.65" fill="#36221a" opacity="1.0" stroke="#16141a" stroke-width="1.2" filter="url(#bl2)"/>
<rect x="43.3" y="694.8" width="26.70" height="5.20" rx="2.60" fill="#0c0c1c" opacity="1.0" stroke="#16141a" stroke-width="1.2" filter="url(#bl2)"/>
<rect x="74.0" y="694.8" width="28.30" height="5.20" rx="2.60" fill="#0c0c1c" opacity="1.0" stroke="#16141a" stroke-width="1.2" filter="url(#bl2)"/>
<rect x="105.8" y="694.8" width="28.80" height="5.20" rx="2.60" fill="#0c0c1c" opacity="1.0" stroke="#16141a" stroke-width="1.2" filter="url(#bl2)"/>
<rect x="137.5" y="694.8" width="27.90" height="5.20" rx="2.60" fill="#0c0c1c" opacity="1.0" stroke="#16141a" stroke-width="1.2" filter="url(#bl2)"/>
<rect x="172" y="696.5" width="24.00" height="2.30" rx="1.15" fill="#405a80" opacity="0.5" stroke="#16141a" stroke-width="0" filter="url(#bl2)"/>
<rect x="46" y="711.8" width="22.00" height="3.80" rx="1.90" fill="#3c5272" opacity="0.75" stroke="#16141a" stroke-width="0" filter="url(#bl2)"/>
<rect x="72.5" y="708.3" width="31.30" height="11.10" rx="5.55" fill="#36221a" opacity="1.0" stroke="#16141a" stroke-width="1.2" filter="url(#bl2)"/>
<rect x="104.3" y="708.3" width="31.80" height="11.10" rx="5.55" fill="#36221a" opacity="1.0" stroke="#16141a" stroke-width="1.2" filter="url(#bl2)"/>
<rect x="136.0" y="708.3" width="30.90" height="11.10" rx="5.55" fill="#36221a" opacity="1.0" stroke="#16141a" stroke-width="1.2" filter="url(#bl2)"/>
<rect x="168.7" y="708.3" width="30.90" height="11.10" rx="5.55" fill="#36221a" opacity="1.0" stroke="#16141a" stroke-width="1.2" filter="url(#bl2)"/>
<rect x="41.4" y="726.2" width="33.60" height="7.60" rx="3.80" fill="#36221a" opacity="1.0" stroke="#16141a" stroke-width="1.2" filter="url(#bl2)"/>
<rect x="72" y="726.4" width="33.00" height="7.40" rx="3.70" fill="#36221a" opacity="1.0" stroke="#16141a" stroke-width="1.2" filter="url(#bl2)"/>
<rect x="103" y="726.4" width="34.00" height="7.40" rx="3.70" fill="#36221a" opacity="1.0" stroke="#16141a" stroke-width="1.2" filter="url(#bl2)"/>
<rect x="135" y="726.4" width="34.00" height="7.40" rx="3.70" fill="#36221a" opacity="1.0" stroke="#16141a" stroke-width="1.2" filter="url(#bl2)"/>
<rect x="167" y="726.0" width="33.00" height="7.80" rx="3.90" fill="#36221a" opacity="1.0" stroke="#16141a" stroke-width="1.2" filter="url(#bl2)"/>
<text x="39.80" y="681.70" font-size="10.7" font-weight="normal" font-style="normal" text-anchor="end" fill="#000" >EpoR</text>
<text x="39.80" y="699.40" font-size="10.7" font-weight="normal" font-style="normal" text-anchor="end" fill="#000" >Eklf</text>
<text x="39.80" y="717.70" font-size="10.7" font-weight="normal" font-style="normal" text-anchor="end" fill="#000" >Gata2</text>
<text x="39.80" y="732.70" font-size="10.7" font-weight="normal" font-style="normal" text-anchor="end" fill="#000" >&#946;-actin</text>
<text x="207.50" y="564.80" font-size="17.5" font-weight="bold" font-style="normal" text-anchor="start" fill="#000" >D</text>
<path d="M232.8,609.5 L233.4,609.4 L234.1,609.3 L234.7,609.2 L235.4,609.0 L236.1,608.7 L236.8,608.4 L237.5,608.1 L238.2,607.7 L238.9,607.3 L239.6,606.9 L240.4,606.4 L241.1,605.9 L241.9,605.4 L242.7,604.8 L243.5,604.0 L244.2,603.4 L245.0,602.9 L245.8,602.3 L246.5,601.9 L247.2,601.4 L248.0,601.0 L248.7,600.6 L249.4,600.3 L250.1,600.0 L250.8,599.7 L251.4,599.5 L252.1,599.3 L252.8,599.2 L253.4,599.1 L254.0,599.1" fill="none" stroke="#aa6a70" stroke-width="2.79" stroke-linecap="round"/>
<path d="M232.8,609.5 L233.4,609.4 L234.1,609.3 L234.7,609.2 L235.4,609.0 L236.1,608.7 L236.8,608.4 L237.5,608.1 L238.2,607.7 L238.9,607.3 L239.6,606.9 L240.4,606.4 L241.1,605.9 L241.9,605.4 L242.7,604.8 L243.5,604.0 L244.2,603.4 L245.0,602.9 L245.8,602.3 L246.5,601.9 L247.2,601.4 L248.0,601.0 L248.7,600.6 L249.4,600.3 L250.1,600.0 L250.8,599.7 L251.4,599.5 L252.1,599.3 L252.8,599.2 L253.4,599.1 L254.0,599.1" fill="none" stroke="#e8caca" stroke-width="0.84" opacity="0.6"/>
<path d="M270.7,609.5 L271.3,609.4 L272.0,609.3 L272.6,609.2 L273.3,609.0 L274.0,608.8 L274.7,608.5 L275.4,608.2 L276.1,607.8 L276.8,607.4 L277.5,607.0 L278.3,606.5 L279.0,606.0 L279.8,605.4 L280.6,604.8 L281.4,604.1 L282.1,603.5 L282.9,602.9 L283.6,602.4 L284.4,601.9 L285.1,601.5 L285.9,601.0 L286.6,600.7 L287.3,600.3 L288.0,600.0 L288.7,599.7 L289.3,599.5 L290.0,599.3 L290.7,599.2 L291.3,599.1 L291.9,599.1 L292.5,599.1" fill="none" stroke="#aa6a70" stroke-width="2.79" stroke-linecap="round"/>
<path d="M270.7,609.5 L271.3,609.4 L272.0,609.3 L272.6,609.2 L273.3,609.0 L274.0,608.8 L274.7,608.5 L275.4,608.2 L276.1,607.8 L276.8,607.4 L277.5,607.0 L278.3,606.5 L279.0,606.0 L279.8,605.4 L280.6,604.8 L281.4,604.1 L282.1,603.5 L282.9,602.9 L283.6,602.4 L284.4,601.9 L285.1,601.5 L285.9,601.0 L286.6,600.7 L287.3,600.3 L288.0,600.0 L288.7,599.7 L289.3,599.5 L290.0,599.3 L290.7,599.2 L291.3,599.1 L291.9,599.1 L292.5,599.1" fill="none" stroke="#e8caca" stroke-width="0.84" opacity="0.6"/>
<path d="M308.6,609.5 L309.2,609.5 L309.9,609.4 L310.5,609.2 L311.2,609.0 L311.9,608.8 L312.6,608.5 L313.3,608.2 L314.0,607.9 L314.7,607.5 L315.4,607.0 L316.2,606.6 L316.9,606.0 L317.7,605.5 L318.4,604.9 L319.2,604.3 L320.0,603.6 L320.8,603.0 L321.5,602.5 L322.3,602.0 L323.0,601.5 L323.7,601.1 L324.5,600.7 L325.2,600.4 L325.9,600.0 L326.6,599.8 L327.2,599.5 L327.9,599.4 L328.6,599.2 L329.2,599.1 L329.8,599.1 L330.5,599.1" fill="none" stroke="#aa6a70" stroke-width="2.79" stroke-linecap="round"/>
<path d="M308.6,609.5 L309.2,609.5 L309.9,609.4 L310.5,609.2 L311.2,609.0 L311.9,608.8 L312.6,608.5 L313.3,608.2 L314.0,607.9 L314.7,607.5 L315.4,607.0 L316.2,606.6 L316.9,606.0 L317.7,605.5 L318.4,604.9 L319.2,604.3 L320.0,603.6 L320.8,603.0 L321.5,602.5 L322.3,602.0 L323.0,601.5 L323.7,601.1 L324.5,600.7 L325.2,600.4 L325.9,600.0 L326.6,599.8 L327.2,599.5 L327.9,599.4 L328.6,599.2 L329.2,599.1 L329.8,599.1 L330.5,599.1" fill="none" stroke="#e8caca" stroke-width="0.84" opacity="0.6"/>
<path d="M226.4,602.6 L227.2,602.1 L227.9,601.6 L228.7,601.2 L229.4,600.8 L230.1,600.4 L230.8,600.1 L231.5,599.8 L232.2,599.6 L232.8,599.4 L233.5,599.2 L234.1,599.1 L234.8,599.1 L235.4,599.1" fill="none" stroke="#aa6a70" stroke-width="2.79" stroke-linecap="round"/>
<path d="M226.4,602.6 L227.2,602.1 L227.9,601.6 L228.7,601.2 L229.4,600.8 L230.1,600.4 L230.8,600.1 L231.5,599.8 L232.2,599.6 L232.8,599.4 L233.5,599.2 L234.1,599.1 L234.8,599.1 L235.4,599.1" fill="none" stroke="#e8caca" stroke-width="0.84" opacity="0.6"/>
<path d="M251.4,609.5 L252.1,609.5 L252.7,609.4 L253.3,609.3 L254.0,609.1 L254.7,608.9 L255.4,608.6 L256.1,608.3 L256.8,608.0 L257.5,607.6 L258.2,607.1 L259.0,606.7 L259.7,606.2 L260.5,605.7 L261.2,605.1 L262.0,604.5 L262.8,603.8 L263.6,603.2 L264.3,602.6 L265.1,602.1 L265.8,601.7 L266.5,601.2 L267.3,600.8 L268.0,600.4 L268.7,600.1 L269.4,599.8 L270.1,599.6 L270.7,599.4 L271.4,599.3 L272.0,599.2 L272.7,599.1 L273.3,599.1" fill="none" stroke="#aa6a70" stroke-width="2.79" stroke-linecap="round"/>
<path d="M251.4,609.5 L252.1,609.5 L252.7,609.4 L253.3,609.3 L254.0,609.1 L254.7,608.9 L255.4,608.6 L256.1,608.3 L256.8,608.0 L257.5,607.6 L258.2,607.1 L259.0,606.7 L259.7,606.2 L260.5,605.7 L261.2,605.1 L262.0,604.5 L262.8,603.8 L263.6,603.2 L264.3,602.6 L265.1,602.1 L265.8,601.7 L266.5,601.2 L267.3,600.8 L268.0,600.4 L268.7,600.1 L269.4,599.8 L270.1,599.6 L270.7,599.4 L271.4,599.3 L272.0,599.2 L272.7,599.1 L273.3,599.1" fill="none" stroke="#e8caca" stroke-width="0.84" opacity="0.6"/>
<path d="M290.0,609.5 L290.6,609.4 L291.2,609.3 L291.9,609.1 L292.6,608.9 L293.3,608.7 L294.0,608.4 L294.7,608.0 L295.4,607.6 L296.1,607.2 L296.9,606.8 L297.6,606.3 L298.4,605.7 L299.1,605.2 L299.9,604.6 L300.7,603.9 L301.5,603.3 L302.2,602.7 L303.0,602.2 L303.7,601.7 L304.4,601.3 L305.2,600.9 L305.9,600.5 L306.6,600.2 L307.3,599.9 L308.0,599.6 L308.6,599.4 L309.3,599.3 L309.9,599.2 L310.6,599.1 L311.2,599.1" fill="none" stroke="#aa6a70" stroke-width="2.79" stroke-linecap="round"/>
<path d="M290.0,609.5 L290.6,609.4 L291.2,609.3 L291.9,609.1 L292.6,608.9 L293.3,608.7 L294.0,608.4 L294.7,608.0 L295.4,607.6 L296.1,607.2 L296.9,606.8 L297.6,606.3 L298.4,605.7 L299.1,605.2 L299.9,604.6 L300.7,603.9 L301.5,603.3 L302.2,602.7 L303.0,602.2 L303.7,601.7 L304.4,601.3 L305.2,600.9 L305.9,600.5 L306.6,600.2 L307.3,599.9 L308.0,599.6 L308.6,599.4 L309.3,599.3 L309.9,599.2 L310.6,599.1 L311.2,599.1" fill="none" stroke="#e8caca" stroke-width="0.84" opacity="0.6"/>
<path d="M327.9,609.5 L328.5,609.4 L329.2,609.3 L329.8,609.2 L330.5,608.9 L331.2,608.7 L331.9,608.4 L332.6,608.1 L333.3,607.7 L334.0,607.3 L334.7,606.8 L335.5,606.3" fill="none" stroke="#aa6a70" stroke-width="2.79" stroke-linecap="round"/>
<path d="M327.9,609.5 L328.5,609.4 L329.2,609.3 L329.8,609.2 L330.5,608.9 L331.2,608.7 L331.9,608.4 L332.6,608.1 L333.3,607.7 L334.0,607.3 L334.7,606.8 L335.5,606.3" fill="none" stroke="#e8caca" stroke-width="0.84" opacity="0.6"/>
<path d="M226.1,606.5 L226.6,607.0 L227.1,607.4 L227.6,607.8 L228.1,608.2 L228.7,608.5 L229.2,608.8 L229.8,609.0 L230.4,609.2 L230.9,609.4 L231.5,609.5 L232.2,609.5 L232.8,609.5" fill="none" stroke="#944650" stroke-width="3.1" stroke-linecap="round"/>
<path d="M226.1,606.5 L226.6,607.0 L227.1,607.4 L227.6,607.8 L228.1,608.2 L228.7,608.5 L229.2,608.8 L229.8,609.0 L230.4,609.2 L230.9,609.4 L231.5,609.5 L232.2,609.5 L232.8,609.5" fill="none" stroke="#d0989c" stroke-width="0.93" opacity="0.6"/>
<path d="M254.0,599.1 L254.6,599.1 L255.2,599.2 L255.8,599.3 L256.4,599.5 L257.0,599.7 L257.5,600.0 L258.1,600.3 L258.6,600.6 L259.1,601.0 L259.6,601.5 L260.2,601.9 L260.7,602.4 L261.1,602.9 L261.6,603.5 L262.1,604.1 L262.5,604.8 L263.0,605.4 L263.5,606.0 L264.0,606.5 L264.5,606.9 L265.0,607.4 L265.5,607.8 L266.1,608.2 L266.6,608.5 L267.1,608.8 L267.7,609.0 L268.3,609.2 L268.9,609.3 L269.5,609.4 L270.1,609.5 L270.7,609.5" fill="none" stroke="#944650" stroke-width="3.1" stroke-linecap="round"/>
<path d="M254.0,599.1 L254.6,599.1 L255.2,599.2 L255.8,599.3 L256.4,599.5 L257.0,599.7 L257.5,600.0 L258.1,600.3 L258.6,600.6 L259.1,601.0 L259.6,601.5 L260.2,601.9 L260.7,602.4 L261.1,602.9 L261.6,603.5 L262.1,604.1 L262.5,604.8 L263.0,605.4 L263.5,606.0 L264.0,606.5 L264.5,606.9 L265.0,607.4 L265.5,607.8 L266.1,608.2 L266.6,608.5 L267.1,608.8 L267.7,609.0 L268.3,609.2 L268.9,609.3 L269.5,609.4 L270.1,609.5 L270.7,609.5" fill="none" stroke="#d0989c" stroke-width="0.93" opacity="0.6"/>
<path d="M292.5,599.1 L293.2,599.2 L293.7,599.3 L294.3,599.5 L294.9,599.7 L295.5,599.9 L296.0,600.2 L296.5,600.6 L297.1,601.0 L297.6,601.4 L298.1,601.8 L298.6,602.3 L299.1,602.9 L299.6,603.4 L300.0,604.0 L300.5,604.7 L300.9,605.3 L301.4,605.9 L301.9,606.4 L302.4,606.9 L302.9,607.3 L303.4,607.7 L304.0,608.1 L304.5,608.4 L305.1,608.7 L305.6,609.0 L306.2,609.2 L306.8,609.3 L307.4,609.4 L308.0,609.5 L308.6,609.5" fill="none" stroke="#944650" stroke-width="3.1" stroke-linecap="round"/>
<path d="M292.5,599.1 L293.2,599.2 L293.7,599.3 L294.3,599.5 L294.9,599.7 L295.5,599.9 L296.0,600.2 L296.5,600.6 L297.1,601.0 L297.6,601.4 L298.1,601.8 L298.6,602.3 L299.1,602.9 L299.6,603.4 L300.0,604.0 L300.5,604.7 L300.9,605.3 L301.4,605.9 L301.9,606.4 L302.4,606.9 L302.9,607.3 L303.4,607.7 L304.0,608.1 L304.5,608.4 L305.1,608.7 L305.6,609.0 L306.2,609.2 L306.8,609.3 L307.4,609.4 L308.0,609.5 L308.6,609.5" fill="none" stroke="#d0989c" stroke-width="0.93" opacity="0.6"/>
<path d="M330.5,599.1 L331.1,599.2 L331.7,599.3 L332.2,599.4 L332.8,599.7 L333.4,599.9 L333.9,600.2 L334.5,600.5 L335.0,600.9 L335.5,601.3" fill="none" stroke="#944650" stroke-width="3.1" stroke-linecap="round"/>
<path d="M330.5,599.1 L331.1,599.2 L331.7,599.3 L332.2,599.4 L332.8,599.7 L333.4,599.9 L333.9,600.2 L334.5,600.5 L335.0,600.9 L335.5,601.3" fill="none" stroke="#d0989c" stroke-width="0.93" opacity="0.6"/>
<path d="M235.4,599.1 L236.0,599.2 L236.6,599.3 L237.2,599.4 L237.7,599.6 L238.3,599.9 L238.8,600.2 L239.4,600.5 L239.9,600.9 L240.4,601.3 L240.9,601.7 L241.4,602.2 L241.9,602.7 L242.4,603.2 L242.9,603.8 L243.3,604.6 L243.8,605.2 L244.3,605.7 L244.8,606.3 L245.3,606.7 L245.8,607.2 L246.3,607.6 L246.8,608.0 L247.4,608.3 L247.9,608.6 L248.5,608.9 L249.0,609.1 L249.6,609.3 L250.2,609.4 L250.8,609.5 L251.4,609.5" fill="none" stroke="#944650" stroke-width="3.1" stroke-linecap="round"/>
<path d="M235.4,599.1 L236.0,599.2 L236.6,599.3 L237.2,599.4 L237.7,599.6 L238.3,599.9 L238.8,600.2 L239.4,600.5 L239.9,600.9 L240.4,601.3 L240.9,601.7 L241.4,602.2 L241.9,602.7 L242.4,603.2 L242.9,603.8 L243.3,604.6 L243.8,605.2 L244.3,605.7 L244.8,606.3 L245.3,606.7 L245.8,607.2 L246.3,607.6 L246.8,608.0 L247.4,608.3 L247.9,608.6 L248.5,608.9 L249.0,609.1 L249.6,609.3 L250.2,609.4 L250.8,609.5 L251.4,609.5" fill="none" stroke="#d0989c" stroke-width="0.93" opacity="0.6"/>
<path d="M273.3,599.1 L273.9,599.2 L274.5,599.3 L275.1,599.4 L275.7,599.6 L276.2,599.8 L276.8,600.1 L277.3,600.4 L277.8,600.8 L278.4,601.2 L278.9,601.6 L279.4,602.1 L279.9,602.6 L280.4,603.2 L280.8,603.8 L281.3,604.5 L281.7,605.1 L282.2,605.7 L282.7,606.2 L283.2,606.7 L283.7,607.1 L284.2,607.6 L284.7,607.9 L285.3,608.3 L285.8,608.6 L286.4,608.9 L286.9,609.1 L287.5,609.3 L288.1,609.4 L288.7,609.5 L289.3,609.5 L290.0,609.5" fill="none" stroke="#944650" stroke-width="3.1" stroke-linecap="round"/>
<path d="M273.3,599.1 L273.9,599.2 L274.5,599.3 L275.1,599.4 L275.7,599.6 L276.2,599.8 L276.8,600.1 L277.3,600.4 L277.8,600.8 L278.4,601.2 L278.9,601.6 L279.4,602.1 L279.9,602.6 L280.4,603.2 L280.8,603.8 L281.3,604.5 L281.7,605.1 L282.2,605.7 L282.7,606.2 L283.2,606.7 L283.7,607.1 L284.2,607.6 L284.7,607.9 L285.3,608.3 L285.8,608.6 L286.4,608.9 L286.9,609.1 L287.5,609.3 L288.1,609.4 L288.7,609.5 L289.3,609.5 L290.0,609.5" fill="none" stroke="#d0989c" stroke-width="0.93" opacity="0.6"/>
<path d="M311.2,599.1 L311.8,599.1 L312.4,599.2 L313.0,599.4 L313.6,599.6 L314.1,599.8 L314.7,600.1 L315.2,600.4 L315.8,600.7 L316.3,601.1 L316.8,601.6 L317.3,602.0 L317.8,602.6 L318.3,603.1 L318.8,603.7 L319.2,604.3 L319.7,605.0 L320.1,605.6 L320.6,606.1 L321.1,606.6 L321.6,607.1 L322.1,607.5 L322.7,607.9 L323.2,608.2 L323.7,608.6 L324.3,608.8 L324.9,609.1 L325.4,609.2 L326.0,609.4 L326.6,609.5 L327.2,609.5 L327.9,609.5" fill="none" stroke="#944650" stroke-width="3.1" stroke-linecap="round"/>
<path d="M311.2,599.1 L311.8,599.1 L312.4,599.2 L313.0,599.4 L313.6,599.6 L314.1,599.8 L314.7,600.1 L315.2,600.4 L315.8,600.7 L316.3,601.1 L316.8,601.6 L317.3,602.0 L317.8,602.6 L318.3,603.1 L318.8,603.7 L319.2,604.3 L319.7,605.0 L320.1,605.6 L320.6,606.1 L321.1,606.6 L321.6,607.1 L322.1,607.5 L322.7,607.9 L323.2,608.2 L323.7,608.6 L324.3,608.8 L324.9,609.1 L325.4,609.2 L326.0,609.4 L326.6,609.5 L327.2,609.5 L327.9,609.5" fill="none" stroke="#d0989c" stroke-width="0.93" opacity="0.6"/>
<path d="M289 597 L289 582.3 L323.8 582.3" fill="none" stroke="#d8121c" stroke-width="3.6"/>
<rect x="322" y="571.8" width="3.8" height="20.2" fill="#d8121c"/>
<ellipse cx="255.0" cy="589.0" rx="21.8" ry="12.2" fill="#9dbb5e" stroke="#5e7a34" stroke-width="1"/>
<text x="255.00" y="592.00" font-size="8.4" font-weight="bold" font-style="normal" text-anchor="middle" fill="#222" >Gfi-1</text>
<ellipse cx="344.3" cy="582.7" rx="15.0" ry="15.0" fill="#d2701f" stroke="#8a4a1a" stroke-width="1"/>
<text x="344.30" y="585.70" font-size="8.4" font-weight="bold" font-style="normal" text-anchor="middle" fill="#222" >Id2</text>
<rect x="344.6" y="604.6" width="3.8" height="21" fill="#d8121c"/>
<rect x="335.4" y="624.6" width="20.8" height="3.6" fill="#d8121c"/>
<ellipse cx="376.0" cy="644.2" rx="15.0" ry="15.0" fill="#d2701f" stroke="#8a4a1a" stroke-width="1"/>
<text x="376.00" y="647.20" font-size="8.4" font-weight="bold" font-style="normal" text-anchor="middle" fill="#222" >Id2</text>
<ellipse cx="346.5" cy="644.8" rx="19.6" ry="11.4" fill="#80e6f4" stroke="#3a8a96" stroke-width="1"/>
<text x="346.50" y="647.80" font-size="8.4" font-weight="bold" font-style="normal" text-anchor="middle" fill="#222" >E2A</text>
<text x="288.0" y="662.8" font-size="27" font-weight="bold" fill="#5c9a2c" class="g" transform="translate(288 662.8) scale(0.92 1) translate(-288 -662.8)">?</text>
<line x1="324.6" y1="650" x2="282" y2="681.8" stroke="#4e8c26" stroke-width="4.4" stroke-dasharray="4.6 3.2"/>
<polygon points="271.4,688.9 277.1,678.5 282.8,686.9" fill="#4e8c26"/>
<path d="M245.8,723.2 L246.4,723.2 L247.1,723.1 L247.8,723.1 L248.5,723.0 L249.2,722.9 L249.9,722.7 L250.6,722.6 L251.4,722.4 L252.1,722.2 L252.8,722.0 L253.6,721.8 L254.3,721.6 L255.0,721.3 L255.8,721.0 L256.5,720.7 L257.3,720.4 L258.0,720.1 L258.8,719.7 L259.6,719.4 L260.3,719.0 L261.1,718.6 L261.9,718.2 L262.7,717.7 L263.5,717.2 L264.3,716.8 L265.1,716.4 L265.8,716.0 L266.6,715.6 L267.4,715.3 L268.1,715.0 L268.9,714.6 L269.6,714.3 L270.4,714.0 L271.1,713.8 L271.9,713.5 L272.6,713.3 L273.3,713.1 L274.1,712.9 L274.8,712.7 L275.5,712.5 L276.2,712.4 L276.9,712.3 L277.6,712.2 L278.3,712.1 L279.0,712.0 L279.7,712.0 L280.4,712.0" fill="none" stroke="#aa6a70" stroke-width="3.42" stroke-linecap="round"/>
<path d="M245.8,723.2 L246.4,723.2 L247.1,723.1 L247.8,723.1 L248.5,723.0 L249.2,722.9 L249.9,722.7 L250.6,722.6 L251.4,722.4 L252.1,722.2 L252.8,722.0 L253.6,721.8 L254.3,721.6 L255.0,721.3 L255.8,721.0 L256.5,720.7 L257.3,720.4 L258.0,720.1 L258.8,719.7 L259.6,719.4 L260.3,719.0 L261.1,718.6 L261.9,718.2 L262.7,717.7 L263.5,717.2 L264.3,716.8 L265.1,716.4 L265.8,716.0 L266.6,715.6 L267.4,715.3 L268.1,715.0 L268.9,714.6 L269.6,714.3 L270.4,714.0 L271.1,713.8 L271.9,713.5 L272.6,713.3 L273.3,713.1 L274.1,712.9 L274.8,712.7 L275.5,712.5 L276.2,712.4 L276.9,712.3 L277.6,712.2 L278.3,712.1 L279.0,712.0 L279.7,712.0 L280.4,712.0" fill="none" stroke="#e8caca" stroke-width="1.03" opacity="0.6"/>
<path d="M310.1,723.2 L310.8,723.2 L311.5,723.1 L312.1,723.0 L312.8,722.9 L313.6,722.8 L314.3,722.7 L315.0,722.5 L315.7,722.3 L316.4,722.1 L317.2,721.9 L317.9,721.7 L318.6,721.4 L319.4,721.2 L320.1,720.9 L320.9,720.6 L321.6,720.2 L322.4,719.9 L323.2,719.6 L323.9,719.2 L324.7,718.8 L325.5,718.4 L326.3,718.0 L327.1,717.5 L327.9,717.0 L328.7,716.6 L329.4,716.2 L330.2,715.8 L331.0,715.5 L331.7,715.1 L332.5,714.8 L333.2,714.5 L334.0,714.2 L334.7,713.9 L335.5,713.6 L336.2,713.4 L337.0,713.2 L337.7,713.0 L338.4,712.8 L339.1,712.6 L339.8,712.5 L340.6,712.3 L341.3,712.2 L342.0,712.1 L342.6,712.1 L343.3,712.0 L344.0,712.0 L344.7,712.0" fill="none" stroke="#aa6a70" stroke-width="3.42" stroke-linecap="round"/>
<path d="M310.1,723.2 L310.8,723.2 L311.5,723.1 L312.1,723.0 L312.8,722.9 L313.6,722.8 L314.3,722.7 L315.0,722.5 L315.7,722.3 L316.4,722.1 L317.2,721.9 L317.9,721.7 L318.6,721.4 L319.4,721.2 L320.1,720.9 L320.9,720.6 L321.6,720.2 L322.4,719.9 L323.2,719.6 L323.9,719.2 L324.7,718.8 L325.5,718.4 L326.3,718.0 L327.1,717.5 L327.9,717.0 L328.7,716.6 L329.4,716.2 L330.2,715.8 L331.0,715.5 L331.7,715.1 L332.5,714.8 L333.2,714.5 L334.0,714.2 L334.7,713.9 L335.5,713.6 L336.2,713.4 L337.0,713.2 L337.7,713.0 L338.4,712.8 L339.1,712.6 L339.8,712.5 L340.6,712.3 L341.3,712.2 L342.0,712.1 L342.6,712.1 L343.3,712.0 L344.0,712.0 L344.7,712.0" fill="none" stroke="#e8caca" stroke-width="1.03" opacity="0.6"/>
<path d="M373.7,723.2 L374.4,723.2 L375.1,723.1 L375.8,723.1 L376.5,723.0 L377.2,722.9 L377.9,722.8 L378.6,722.6 L379.3,722.4 L380.0,722.3 L380.8,722.0 L381.5,721.8 L382.2,721.6 L383.0,721.3 L383.7,721.0 L384.5,720.7 L385.2,720.4 L386.0,720.1 L386.8,719.7 L387.5,719.4 L388.3,719.0 L389.1,718.6 L389.9,718.2 L390.6,717.8 L391.5,717.2 L392.2,716.8 L393.0,716.4 L393.8,716.0 L394.6,715.7 L395.3,715.3 L396.1,715.0 L396.8,714.7 L397.6,714.3 L398.3,714.1 L399.1,713.8 L399.8,713.5 L400.6,713.3 L401.3,713.1 L402.0,712.9 L402.7,712.7 L403.5,712.5 L404.2,712.4 L404.9,712.3 L405.6,712.2 L406.3,712.1 L407.0,712.0 L407.7,712.0 L408.3,712.0" fill="none" stroke="#aa6a70" stroke-width="3.42" stroke-linecap="round"/>
<path d="M373.7,723.2 L374.4,723.2 L375.1,723.1 L375.8,723.1 L376.5,723.0 L377.2,722.9 L377.9,722.8 L378.6,722.6 L379.3,722.4 L380.0,722.3 L380.8,722.0 L381.5,721.8 L382.2,721.6 L383.0,721.3 L383.7,721.0 L384.5,720.7 L385.2,720.4 L386.0,720.1 L386.8,719.7 L387.5,719.4 L388.3,719.0 L389.1,718.6 L389.9,718.2 L390.6,717.8 L391.5,717.2 L392.2,716.8 L393.0,716.4 L393.8,716.0 L394.6,715.7 L395.3,715.3 L396.1,715.0 L396.8,714.7 L397.6,714.3 L398.3,714.1 L399.1,713.8 L399.8,713.5 L400.6,713.3 L401.3,713.1 L402.0,712.9 L402.7,712.7 L403.5,712.5 L404.2,712.4 L404.9,712.3 L405.6,712.2 L406.3,712.1 L407.0,712.0 L407.7,712.0 L408.3,712.0" fill="none" stroke="#e8caca" stroke-width="1.03" opacity="0.6"/>
<path d="M237.1,714.6 L237.8,714.3 L238.6,714.0 L239.3,713.7 L240.1,713.4 L240.8,713.2 L241.5,713.0 L242.3,712.8 L243.0,712.6 L243.7,712.5 L244.4,712.3 L245.1,712.2 L245.8,712.1 L246.5,712.1 L247.2,712.0 L247.9,712.0 L248.6,712.0" fill="none" stroke="#aa6a70" stroke-width="3.42" stroke-linecap="round"/>
<path d="M237.1,714.6 L237.8,714.3 L238.6,714.0 L239.3,713.7 L240.1,713.4 L240.8,713.2 L241.5,713.0 L242.3,712.8 L243.0,712.6 L243.7,712.5 L244.4,712.3 L245.1,712.2 L245.8,712.1 L246.5,712.1 L247.2,712.0 L247.9,712.0 L248.6,712.0" fill="none" stroke="#e8caca" stroke-width="1.03" opacity="0.6"/>
<path d="M277.6,723.2 L278.3,723.2 L278.9,723.1 L279.6,723.1 L280.3,723.0 L281.0,722.9 L281.7,722.8 L282.5,722.6 L283.2,722.5 L283.9,722.3 L284.6,722.1 L285.4,721.9 L286.1,721.6 L286.8,721.4 L287.6,721.1 L288.3,720.8 L289.1,720.5 L289.8,720.2 L290.6,719.8 L291.4,719.5 L292.1,719.1 L292.9,718.7 L293.7,718.3 L294.5,717.9 L295.3,717.3 L296.1,716.9 L296.9,716.5 L297.6,716.1 L298.4,715.7 L299.2,715.4 L299.9,715.0 L300.7,714.7 L301.4,714.4 L302.2,714.1 L302.9,713.8 L303.7,713.6 L304.4,713.3 L305.1,713.1 L305.9,712.9 L306.6,712.7 L307.3,712.6 L308.0,712.4 L308.7,712.3 L309.4,712.2 L310.1,712.1 L310.8,712.1 L311.5,712.0 L312.2,712.0 L312.9,712.0" fill="none" stroke="#aa6a70" stroke-width="3.42" stroke-linecap="round"/>
<path d="M277.6,723.2 L278.3,723.2 L278.9,723.1 L279.6,723.1 L280.3,723.0 L281.0,722.9 L281.7,722.8 L282.5,722.6 L283.2,722.5 L283.9,722.3 L284.6,722.1 L285.4,721.9 L286.1,721.6 L286.8,721.4 L287.6,721.1 L288.3,720.8 L289.1,720.5 L289.8,720.2 L290.6,719.8 L291.4,719.5 L292.1,719.1 L292.9,718.7 L293.7,718.3 L294.5,717.9 L295.3,717.3 L296.1,716.9 L296.9,716.5 L297.6,716.1 L298.4,715.7 L299.2,715.4 L299.9,715.0 L300.7,714.7 L301.4,714.4 L302.2,714.1 L302.9,713.8 L303.7,713.6 L304.4,713.3 L305.1,713.1 L305.9,712.9 L306.6,712.7 L307.3,712.6 L308.0,712.4 L308.7,712.3 L309.4,712.2 L310.1,712.1 L310.8,712.1 L311.5,712.0 L312.2,712.0 L312.9,712.0" fill="none" stroke="#e8caca" stroke-width="1.03" opacity="0.6"/>
<path d="M341.9,723.2 L342.6,723.2 L343.3,723.1 L344.0,723.1 L344.7,723.0 L345.4,722.9 L346.1,722.7 L346.8,722.6 L347.5,722.4 L348.2,722.2 L349.0,722.0 L349.7,721.8 L350.4,721.5 L351.2,721.2 L351.9,720.9 L352.7,720.6 L353.4,720.3 L354.2,720.0 L355.0,719.7 L355.7,719.3 L356.5,718.9 L357.3,718.5 L358.1,718.1 L358.9,717.6 L359.7,717.1 L360.4,716.7 L361.2,716.3 L362.0,715.9 L362.8,715.6 L363.5,715.2 L364.3,714.9 L365.0,714.6 L365.8,714.3 L366.5,714.0 L367.3,713.7 L368.0,713.5 L368.8,713.2 L369.5,713.0 L370.2,712.8 L370.9,712.6 L371.7,712.5 L372.4,712.4 L373.1,712.2 L373.8,712.1 L374.5,712.1 L375.2,712.0 L375.8,712.0 L376.5,712.0" fill="none" stroke="#aa6a70" stroke-width="3.42" stroke-linecap="round"/>
<path d="M341.9,723.2 L342.6,723.2 L343.3,723.1 L344.0,723.1 L344.7,723.0 L345.4,722.9 L346.1,722.7 L346.8,722.6 L347.5,722.4 L348.2,722.2 L349.0,722.0 L349.7,721.8 L350.4,721.5 L351.2,721.2 L351.9,720.9 L352.7,720.6 L353.4,720.3 L354.2,720.0 L355.0,719.7 L355.7,719.3 L356.5,718.9 L357.3,718.5 L358.1,718.1 L358.9,717.6 L359.7,717.1 L360.4,716.7 L361.2,716.3 L362.0,715.9 L362.8,715.6 L363.5,715.2 L364.3,714.9 L365.0,714.6 L365.8,714.3 L366.5,714.0 L367.3,713.7 L368.0,713.5 L368.8,713.2 L369.5,713.0 L370.2,712.8 L370.9,712.6 L371.7,712.5 L372.4,712.4 L373.1,712.2 L373.8,712.1 L374.5,712.1 L375.2,712.0 L375.8,712.0 L376.5,712.0" fill="none" stroke="#e8caca" stroke-width="1.03" opacity="0.6"/>
<path d="M405.5,723.2 L406.2,723.2 L406.9,723.2 L407.6,723.1 L408.3,723.0 L409.0,722.9 L409.7,722.8 L410.4,722.7" fill="none" stroke="#aa6a70" stroke-width="3.42" stroke-linecap="round"/>
<path d="M405.5,723.2 L406.2,723.2 L406.9,723.2 L407.6,723.1 L408.3,723.0 L409.0,722.9 L409.7,722.8 L410.4,722.7" fill="none" stroke="#e8caca" stroke-width="1.03" opacity="0.6"/>
<path d="M237.4,721.5 L238.0,721.8 L238.6,722.0 L239.2,722.2 L239.9,722.4 L240.5,722.6 L241.1,722.7 L241.8,722.9 L242.4,723.0 L243.1,723.1 L243.7,723.1 L244.4,723.2 L245.1,723.2 L245.8,723.2" fill="none" stroke="#944650" stroke-width="3.8" stroke-linecap="round"/>
<path d="M237.4,721.5 L238.0,721.8 L238.6,722.0 L239.2,722.2 L239.9,722.4 L240.5,722.6 L241.1,722.7 L241.8,722.9 L242.4,723.0 L243.1,723.1 L243.7,723.1 L244.4,723.2 L245.1,723.2 L245.8,723.2" fill="none" stroke="#d0989c" stroke-width="1.14" opacity="0.6"/>
<path d="M280.4,712.0 L281.1,712.0 L281.7,712.1 L282.4,712.1 L283.0,712.2 L283.7,712.3 L284.3,712.4 L285.0,712.6 L285.6,712.7 L286.2,712.9 L286.9,713.1 L287.5,713.3 L288.1,713.6 L288.7,713.8 L289.3,714.1 L289.9,714.4 L290.5,714.7 L291.1,715.0 L291.7,715.4 L292.3,715.7 L292.9,716.1 L293.5,716.5 L294.0,716.9 L294.6,717.3 L295.2,717.9 L295.7,718.3 L296.3,718.7 L296.9,719.1 L297.5,719.5 L298.1,719.8 L298.6,720.2 L299.2,720.5 L299.8,720.8 L300.4,721.1 L301.1,721.4 L301.7,721.6 L302.3,721.9 L302.9,722.1 L303.5,722.3 L304.2,722.5 L304.8,722.6 L305.4,722.8 L306.1,722.9 L306.7,723.0 L307.4,723.1 L308.1,723.1 L308.7,723.2 L309.4,723.2 L310.1,723.2" fill="none" stroke="#944650" stroke-width="3.8" stroke-linecap="round"/>
<path d="M280.4,712.0 L281.1,712.0 L281.7,712.1 L282.4,712.1 L283.0,712.2 L283.7,712.3 L284.3,712.4 L285.0,712.6 L285.6,712.7 L286.2,712.9 L286.9,713.1 L287.5,713.3 L288.1,713.6 L288.7,713.8 L289.3,714.1 L289.9,714.4 L290.5,714.7 L291.1,715.0 L291.7,715.4 L292.3,715.7 L292.9,716.1 L293.5,716.5 L294.0,716.9 L294.6,717.3 L295.2,717.9 L295.7,718.3 L296.3,718.7 L296.9,719.1 L297.5,719.5 L298.1,719.8 L298.6,720.2 L299.2,720.5 L299.8,720.8 L300.4,721.1 L301.1,721.4 L301.7,721.6 L302.3,721.9 L302.9,722.1 L303.5,722.3 L304.2,722.5 L304.8,722.6 L305.4,722.8 L306.1,722.9 L306.7,723.0 L307.4,723.1 L308.1,723.1 L308.7,723.2 L309.4,723.2 L310.1,723.2" fill="none" stroke="#d0989c" stroke-width="1.14" opacity="0.6"/>
<path d="M344.7,712.0 L345.4,712.0 L346.0,712.1 L346.7,712.1 L347.3,712.2 L348.0,712.3 L348.6,712.5 L349.3,712.6 L349.9,712.8 L350.5,713.0 L351.2,713.2 L351.8,713.4 L352.4,713.7 L353.0,714.0 L353.6,714.3 L354.2,714.6 L354.8,714.9 L355.4,715.2 L356.0,715.5 L356.6,715.9 L357.2,716.3 L357.7,716.7 L358.3,717.1 L358.9,717.6 L359.4,718.1 L360.0,718.5 L360.6,718.9 L361.2,719.3 L361.7,719.6 L362.3,720.0 L362.9,720.3 L363.5,720.6 L364.1,720.9 L364.7,721.2 L365.3,721.5 L366.0,721.7 L366.6,722.0 L367.2,722.2 L367.8,722.4 L368.5,722.6 L369.1,722.7 L369.7,722.8 L370.4,723.0 L371.0,723.1 L371.7,723.1 L372.4,723.2 L373.0,723.2 L373.7,723.2" fill="none" stroke="#944650" stroke-width="3.8" stroke-linecap="round"/>
<path d="M344.7,712.0 L345.4,712.0 L346.0,712.1 L346.7,712.1 L347.3,712.2 L348.0,712.3 L348.6,712.5 L349.3,712.6 L349.9,712.8 L350.5,713.0 L351.2,713.2 L351.8,713.4 L352.4,713.7 L353.0,714.0 L353.6,714.3 L354.2,714.6 L354.8,714.9 L355.4,715.2 L356.0,715.5 L356.6,715.9 L357.2,716.3 L357.7,716.7 L358.3,717.1 L358.9,717.6 L359.4,718.1 L360.0,718.5 L360.6,718.9 L361.2,719.3 L361.7,719.6 L362.3,720.0 L362.9,720.3 L363.5,720.6 L364.1,720.9 L364.7,721.2 L365.3,721.5 L366.0,721.7 L366.6,722.0 L367.2,722.2 L367.8,722.4 L368.5,722.6 L369.1,722.7 L369.7,722.8 L370.4,723.0 L371.0,723.1 L371.7,723.1 L372.4,723.2 L373.0,723.2 L373.7,723.2" fill="none" stroke="#d0989c" stroke-width="1.14" opacity="0.6"/>
<path d="M408.3,712.0 L409.0,712.0 L409.7,712.0 L410.3,712.1 L411.0,712.2" fill="none" stroke="#944650" stroke-width="3.8" stroke-linecap="round"/>
<path d="M408.3,712.0 L409.0,712.0 L409.7,712.0 L410.3,712.1 L411.0,712.2" fill="none" stroke="#d0989c" stroke-width="1.14" opacity="0.6"/>
<path d="M248.6,712.0 L249.2,712.0 L249.9,712.1 L250.6,712.1 L251.2,712.2 L251.9,712.3 L252.5,712.5 L253.1,712.6 L253.8,712.8 L254.4,713.0 L255.0,713.2 L255.7,713.4 L256.3,713.6 L256.9,713.9 L257.5,714.2 L258.1,714.5 L258.7,714.8 L259.3,715.1 L259.9,715.5 L260.5,715.8 L261.0,716.2 L261.6,716.6 L262.2,717.0 L262.8,717.5 L263.3,718.0 L263.9,718.4 L264.5,718.8 L265.0,719.2 L265.6,719.6 L266.2,719.9 L266.8,720.2 L267.4,720.6 L268.0,720.9 L268.6,721.2 L269.2,721.4 L269.8,721.7 L270.4,721.9 L271.1,722.1 L271.7,722.3 L272.3,722.5 L273.0,722.7 L273.6,722.8 L274.3,722.9 L274.9,723.0 L275.6,723.1 L276.2,723.2 L276.9,723.2 L277.6,723.2" fill="none" stroke="#944650" stroke-width="3.8" stroke-linecap="round"/>
<path d="M248.6,712.0 L249.2,712.0 L249.9,712.1 L250.6,712.1 L251.2,712.2 L251.9,712.3 L252.5,712.5 L253.1,712.6 L253.8,712.8 L254.4,713.0 L255.0,713.2 L255.7,713.4 L256.3,713.6 L256.9,713.9 L257.5,714.2 L258.1,714.5 L258.7,714.8 L259.3,715.1 L259.9,715.5 L260.5,715.8 L261.0,716.2 L261.6,716.6 L262.2,717.0 L262.8,717.5 L263.3,718.0 L263.9,718.4 L264.5,718.8 L265.0,719.2 L265.6,719.6 L266.2,719.9 L266.8,720.2 L267.4,720.6 L268.0,720.9 L268.6,721.2 L269.2,721.4 L269.8,721.7 L270.4,721.9 L271.1,722.1 L271.7,722.3 L272.3,722.5 L273.0,722.7 L273.6,722.8 L274.3,722.9 L274.9,723.0 L275.6,723.1 L276.2,723.2 L276.9,723.2 L277.6,723.2" fill="none" stroke="#d0989c" stroke-width="1.14" opacity="0.6"/>
<path d="M312.9,712.0 L313.5,712.0 L314.2,712.1 L314.9,712.2 L315.5,712.3 L316.2,712.4 L316.8,712.5 L317.4,712.7 L318.1,712.9 L318.7,713.1 L319.3,713.3 L319.9,713.5 L320.6,713.8 L321.2,714.0 L321.8,714.3 L322.4,714.6 L323.0,715.0 L323.6,715.3 L324.2,715.6 L324.7,716.0 L325.3,716.4 L325.9,716.8 L326.5,717.2 L327.0,717.7 L327.6,718.2 L328.2,718.6 L328.7,719.0 L329.3,719.4 L329.9,719.7 L330.5,720.1 L331.1,720.4 L331.7,720.7 L332.3,721.0 L332.9,721.3 L333.5,721.6 L334.1,721.8 L334.7,722.0 L335.4,722.2 L336.0,722.4 L336.6,722.6 L337.3,722.7 L337.9,722.9 L338.6,723.0 L339.2,723.1 L339.9,723.1 L340.5,723.2 L341.2,723.2 L341.9,723.2" fill="none" stroke="#944650" stroke-width="3.8" stroke-linecap="round"/>
<path d="M312.9,712.0 L313.5,712.0 L314.2,712.1 L314.9,712.2 L315.5,712.3 L316.2,712.4 L316.8,712.5 L317.4,712.7 L318.1,712.9 L318.7,713.1 L319.3,713.3 L319.9,713.5 L320.6,713.8 L321.2,714.0 L321.8,714.3 L322.4,714.6 L323.0,715.0 L323.6,715.3 L324.2,715.6 L324.7,716.0 L325.3,716.4 L325.9,716.8 L326.5,717.2 L327.0,717.7 L327.6,718.2 L328.2,718.6 L328.7,719.0 L329.3,719.4 L329.9,719.7 L330.5,720.1 L331.1,720.4 L331.7,720.7 L332.3,721.0 L332.9,721.3 L333.5,721.6 L334.1,721.8 L334.7,722.0 L335.4,722.2 L336.0,722.4 L336.6,722.6 L337.3,722.7 L337.9,722.9 L338.6,723.0 L339.2,723.1 L339.9,723.1 L340.5,723.2 L341.2,723.2 L341.9,723.2" fill="none" stroke="#d0989c" stroke-width="1.14" opacity="0.6"/>
<path d="M376.5,712.0 L377.2,712.0 L377.9,712.1 L378.5,712.1 L379.2,712.2 L379.8,712.3 L380.5,712.4 L381.1,712.6 L381.7,712.8 L382.4,712.9 L383.0,713.2 L383.6,713.4 L384.2,713.6 L384.8,713.9 L385.5,714.2 L386.1,714.5 L386.7,714.8 L387.2,715.1 L387.8,715.5 L388.4,715.8 L389.0,716.2 L389.6,716.6 L390.2,717.0 L390.7,717.4 L391.3,718.0 L391.8,718.4 L392.4,718.8 L393.0,719.2 L393.6,719.5 L394.2,719.9 L394.8,720.2 L395.4,720.5 L396.0,720.9 L396.6,721.1 L397.2,721.4 L397.8,721.7 L398.4,721.9 L399.0,722.1 L399.7,722.3 L400.3,722.5 L400.9,722.7 L401.6,722.8 L402.2,722.9 L402.9,723.0 L403.5,723.1 L404.2,723.2 L404.9,723.2 L405.5,723.2" fill="none" stroke="#944650" stroke-width="3.8" stroke-linecap="round"/>
<path d="M376.5,712.0 L377.2,712.0 L377.9,712.1 L378.5,712.1 L379.2,712.2 L379.8,712.3 L380.5,712.4 L381.1,712.6 L381.7,712.8 L382.4,712.9 L383.0,713.2 L383.6,713.4 L384.2,713.6 L384.8,713.9 L385.5,714.2 L386.1,714.5 L386.7,714.8 L387.2,715.1 L387.8,715.5 L388.4,715.8 L389.0,716.2 L389.6,716.6 L390.2,717.0 L390.7,717.4 L391.3,718.0 L391.8,718.4 L392.4,718.8 L393.0,719.2 L393.6,719.5 L394.2,719.9 L394.8,720.2 L395.4,720.5 L396.0,720.9 L396.6,721.1 L397.2,721.4 L397.8,721.7 L398.4,721.9 L399.0,722.1 L399.7,722.3 L400.3,722.5 L400.9,722.7 L401.6,722.8 L402.2,722.9 L402.9,723.0 L403.5,723.1 L404.2,723.2 L404.9,723.2 L405.5,723.2" fill="none" stroke="#d0989c" stroke-width="1.14" opacity="0.6"/>
<ellipse cx="320.8" cy="677.6" rx="22.0" ry="8.9" fill="#b8c8e6" stroke="#6a7a9a" stroke-width="1"/>
<text x="320.80" y="680.60" font-size="8.2" font-weight="bold" font-style="normal" text-anchor="middle" fill="#222" >LDB1</text>
<ellipse cx="322.1" cy="692.9" rx="24.4" ry="9.1" fill="#bcdcec" stroke="#6a8a9a" stroke-width="1"/>
<text x="322.10" y="695.90" font-size="8.2" font-weight="bold" font-style="normal" text-anchor="middle" fill="#222" >LMO2</text>
<ellipse cx="384.0" cy="702.2" rx="17.0" ry="12.2" fill="#d89a9c" stroke="#8a5a5c" stroke-width="1"/>
<text x="384.00" y="705.20" font-size="8.2" font-weight="bold" font-style="normal" text-anchor="middle" fill="#222" >Eklf</text>
<ellipse cx="349.8" cy="703.9" rx="23.3" ry="10.6" fill="#f4c698" stroke="#9a6a40" stroke-width="1"/>
<text x="349.80" y="706.90" font-size="8.2" font-weight="bold" font-style="normal" text-anchor="middle" fill="#222" >Gata1</text>
<ellipse cx="298.4" cy="704.5" rx="17.7" ry="11.3" fill="#ccbcdc" stroke="#7a6a8a" stroke-width="1"/>
<text x="298.40" y="707.50" font-size="8.6" font-weight="bold" font-style="normal" text-anchor="middle" fill="#222" >SCL</text>
<ellipse cx="263.8" cy="704.9" rx="20.3" ry="11.7" fill="#80e6f4" stroke="#3a8a96" stroke-width="1"/>
<text x="263.80" y="707.90" font-size="8.6" font-weight="bold" font-style="normal" text-anchor="middle" fill="#222" >E2A</text>
<rect x="243.1" y="728.0" width="72.2" height="2" fill="#111"/>
<rect x="325.9" y="727.8" width="45.9" height="2" fill="#111"/>
<text x="277.60" y="739.60" font-size="8.6" font-weight="bold" font-style="normal" text-anchor="middle" fill="#000" >E Box</text>
<text x="349.60" y="739.60" font-size="8.6" font-weight="bold" font-style="normal" text-anchor="middle" fill="#000" >Gata Box</text>
<path d="M411.2 709.5 L411.2 699.4 L422 699.4" fill="none" stroke="#54a22c" stroke-width="3.4"/>
<polygon points="421.4,693.7 431.5,699.2 421.4,704.7" fill="#54a22c"/>
<text x="471.90" y="693.70" font-size="11.9" font-weight="normal" font-style="italic" text-anchor="middle" fill="#000" >GATA1/EpoR/Eklf</text>
<text x="466.50" y="706.90" font-size="11.9" font-weight="normal" font-style="italic" text-anchor="middle" fill="#000" >(erythroid</text>
<text x="469.20" y="718.90" font-size="11.9" font-weight="normal" font-style="italic" text-anchor="middle" fill="#000" >differentiation)</text>
</svg></body></html>
